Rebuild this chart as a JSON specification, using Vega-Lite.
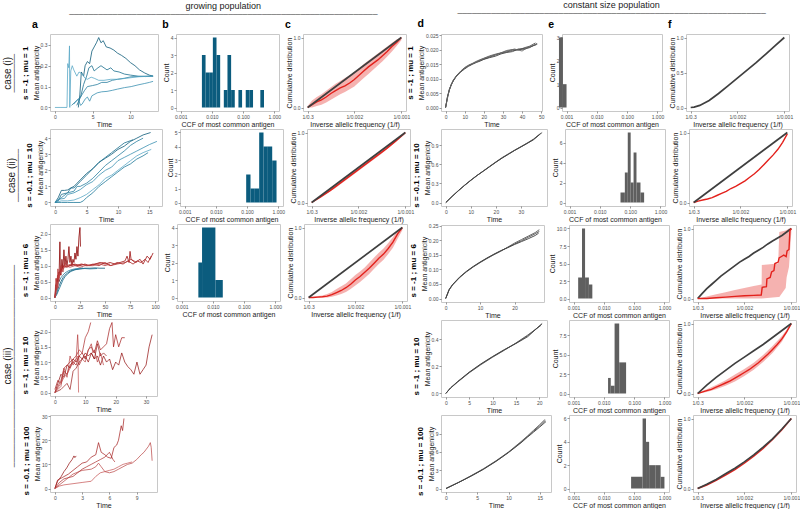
{
"$schema": "https://vega.github.io/schema/vega-lite/v6.json",
"padding": {"left": 2, "right": 2, "top": 1, "bottom": 1},
"background": "white",
"config": {
  "font": "Liberation Sans",
  "view": {"stroke": "#c8c8c8", "strokeWidth": 1},
  "axis": {"grid": false, "domain": false, "tickColor": "#555555", "tickSize": 2, "tickWidth": 0.6, "labelFontSize": 5, "labelColor": "#4d4d4d", "labelPadding": 1, "titleFontSize": 7, "titleFontWeight": "normal", "titleColor": "#1a1a1a", "titlePadding": 1, "labelFlush": false, "labelOverlap": false},
  "title": {"fontSize": 10.5, "fontWeight": "bold", "anchor": "start", "offset": 0, "color": "#000000"}
},
"datasets": {
"ts": [
{"p":"a1","r":"B1","t":3.1,"v":0},{"p":"a1","r":"B1","t":3.3,"v":0.06},{"p":"a1","r":"B1","t":3.5,"v":0.17},{"p":"a1","r":"B1","t":3.8,"v":0.15},{"p":"a1","r":"B1","t":4.0,"v":0.2},{"p":"a1","r":"B1","t":4.3,"v":0.22},{"p":"a1","r":"B1","t":4.6,"v":0.21},{"p":"a1","r":"B1","t":4.9,"v":0.27},{"p":"a1","r":"B1","t":5.2,"v":0.29},{"p":"a1","r":"B1","t":5.5,"v":0.31},{"p":"a1","r":"B1","t":5.8,"v":0.335},{"p":"a1","r":"B1","t":6.1,"v":0.31},{"p":"a1","r":"B1","t":6.4,"v":0.32},{"p":"a1","r":"B1","t":6.8,"v":0.29},{"p":"a1","r":"B1","t":7.3,"v":0.285},{"p":"a1","r":"B1","t":7.8,"v":0.275},{"p":"a1","r":"B1","t":8.3,"v":0.26},{"p":"a1","r":"B1","t":8.8,"v":0.25},{"p":"a1","r":"B1","t":9.4,"v":0.235},{"p":"a1","r":"B1","t":10.0,"v":0.215},{"p":"a1","r":"B1","t":10.6,"v":0.2},{"p":"a1","r":"B1","t":11.2,"v":0.18},{"p":"a1","r":"B1","t":11.9,"v":0.165},{"p":"a1","r":"B1","t":12.5,"v":0.155},{"p":"a1","r":"B1","t":13.0,"v":0.15},
{"p":"a1","r":"B2","t":2.9,"v":0.01},{"p":"a1","r":"B2","t":3.4,"v":0.05},{"p":"a1","r":"B2","t":3.8,"v":0.11},{"p":"a1","r":"B2","t":4.2,"v":0.15},{"p":"a1","r":"B2","t":4.5,"v":0.19},{"p":"a1","r":"B2","t":4.9,"v":0.2},{"p":"a1","r":"B2","t":5.2,"v":0.175},{"p":"a1","r":"B2","t":5.7,"v":0.19},{"p":"a1","r":"B2","t":6.1,"v":0.2},{"p":"a1","r":"B2","t":6.5,"v":0.19},{"p":"a1","r":"B2","t":6.9,"v":0.18},{"p":"a1","r":"B2","t":7.4,"v":0.19},{"p":"a1","r":"B2","t":7.8,"v":0.175},{"p":"a1","r":"B2","t":8.5,"v":0.17},{"p":"a1","r":"B2","t":9.2,"v":0.16},{"p":"a1","r":"B2","t":10.0,"v":0.155},{"p":"a1","r":"B2","t":11.0,"v":0.15},{"p":"a1","r":"B2","t":12.0,"v":0.148},{"p":"a1","r":"B2","t":13.0,"v":0.15},
{"p":"a1","r":"B3","t":2.2,"v":0.01},{"p":"a1","r":"B3","t":2.8,"v":0.03},{"p":"a1","r":"B3","t":3.4,"v":0.05},{"p":"a1","r":"B3","t":3.9,"v":0.08},{"p":"a1","r":"B3","t":4.3,"v":0.1},{"p":"a1","r":"B3","t":5.0,"v":0.105},{"p":"a1","r":"B3","t":5.6,"v":0.11},{"p":"a1","r":"B3","t":6.2,"v":0.12},{"p":"a1","r":"B3","t":6.9,"v":0.12},{"p":"a1","r":"B3","t":7.6,"v":0.13},{"p":"a1","r":"B3","t":8.3,"v":0.135},{"p":"a1","r":"B3","t":9.2,"v":0.14},{"p":"a1","r":"B3","t":10.1,"v":0.147},{"p":"a1","r":"B3","t":11.0,"v":0.148},{"p":"a1","r":"B3","t":11.9,"v":0.15},{"p":"a1","r":"B3","t":13.0,"v":0.15},
{"p":"a1","r":"B4","t":2.5,"v":0.016},{"p":"a1","r":"B4","t":2.8,"v":0.03},{"p":"a1","r":"B4","t":3.1,"v":0.04},{"p":"a1","r":"B4","t":3.4,"v":0.01},{"p":"a1","r":"B4","t":3.6,"v":0.016},{"p":"a1","r":"B4","t":4.0,"v":0.04},{"p":"a1","r":"B4","t":4.3,"v":0.05},{"p":"a1","r":"B4","t":4.6,"v":0.03},{"p":"a1","r":"B4","t":4.9,"v":0.056},{"p":"a1","r":"B4","t":5.6,"v":0.07},{"p":"a1","r":"B4","t":6.2,"v":0.075},{"p":"a1","r":"B4","t":6.9,"v":0.077},{"p":"a1","r":"B4","t":7.6,"v":0.082},{"p":"a1","r":"B4","t":8.3,"v":0.088},{"p":"a1","r":"B4","t":9.2,"v":0.095},{"p":"a1","r":"B4","t":10.1,"v":0.1},{"p":"a1","r":"B4","t":11.0,"v":0.108},{"p":"a1","r":"B4","t":11.9,"v":0.115},{"p":"a1","r":"B4","t":12.5,"v":0.12},{"p":"a1","r":"B4","t":13.0,"v":0.125},
{"p":"a1","r":"B5","t":0,"v":0},{"p":"a1","r":"B5","t":0.8,"v":0},{"p":"a1","r":"B5","t":1.6,"v":0},{"p":"a1","r":"B5","t":1.7,"v":0.21},{"p":"a1","r":"B5","t":1.84,"v":0.19},{"p":"a1","r":"B5","t":1.93,"v":0.295},{"p":"a1","r":"B5","t":1.97,"v":0},{"p":"a1","r":"B5","t":2.1,"v":0.175},{"p":"a1","r":"B5","t":2.3,"v":0.2},{"p":"a1","r":"B5","t":2.5,"v":0.18},{"p":"a1","r":"B5","t":2.9,"v":0.15},{"p":"a1","r":"B5","t":3.2,"v":0.17},{"p":"a1","r":"B5","t":3.6,"v":0.16},{"p":"a1","r":"B5","t":4.0,"v":0.14},{"p":"a1","r":"B5","t":4.3,"v":0.135},{"p":"a1","r":"B5","t":4.8,"v":0.145},{"p":"a1","r":"B5","t":5.2,"v":0.14},{"p":"a1","r":"B5","t":5.8,"v":0.13},{"p":"a1","r":"B5","t":6.5,"v":0.13},{"p":"a1","r":"B5","t":7.4,"v":0.135},{"p":"a1","r":"B5","t":8.3,"v":0.135},{"p":"a1","r":"B5","t":9.5,"v":0.14},{"p":"a1","r":"B5","t":11.0,"v":0.147},{"p":"a1","r":"B5","t":13.0,"v":0.15},

{"p":"a2","r":"B1","t":0,"v":0},{"p":"a2","r":"B1","t":0.5,"v":0.3},{"p":"a2","r":"B1","t":1,"v":0.75},{"p":"a2","r":"B1","t":1.5,"v":0.75},{"p":"a2","r":"B1","t":2,"v":0.78},{"p":"a2","r":"B1","t":2.5,"v":0.9},{"p":"a2","r":"B1","t":3,"v":1.0},{"p":"a2","r":"B1","t":3.5,"v":1.2},{"p":"a2","r":"B1","t":4,"v":1.4},{"p":"a2","r":"B1","t":5,"v":1.8},{"p":"a2","r":"B1","t":6,"v":2.1},{"p":"a2","r":"B1","t":7,"v":2.5},{"p":"a2","r":"B1","t":8,"v":2.75},{"p":"a2","r":"B1","t":9,"v":3.0},{"p":"a2","r":"B1","t":10,"v":3.3},{"p":"a2","r":"B1","t":11,"v":3.5},{"p":"a2","r":"B1","t":12,"v":3.8},{"p":"a2","r":"B1","t":13,"v":4.0},{"p":"a2","r":"B1","t":14,"v":4.2},{"p":"a2","r":"B1","t":15.2,"v":4.35},
{"p":"a2","r":"B2","t":0,"v":0},{"p":"a2","r":"B2","t":0.5,"v":0.1},{"p":"a2","r":"B2","t":1,"v":0.5},{"p":"a2","r":"B2","t":2,"v":0.6},{"p":"a2","r":"B2","t":2.5,"v":0.9},{"p":"a2","r":"B2","t":3,"v":0.9},{"p":"a2","r":"B2","t":4,"v":1.3},{"p":"a2","r":"B2","t":5,"v":1.7},{"p":"a2","r":"B2","t":6,"v":2.1},{"p":"a2","r":"B2","t":7,"v":2.5},{"p":"a2","r":"B2","t":8,"v":2.8},{"p":"a2","r":"B2","t":9,"v":3.1},{"p":"a2","r":"B2","t":10,"v":3.4},{"p":"a2","r":"B2","t":11,"v":3.7},{"p":"a2","r":"B2","t":12.4,"v":3.9},
{"p":"a2","r":"B3","t":0,"v":0},{"p":"a2","r":"B3","t":1,"v":0.3},{"p":"a2","r":"B3","t":2,"v":0.6},{"p":"a2","r":"B3","t":3,"v":0.7},{"p":"a2","r":"B3","t":3.5,"v":1.0},{"p":"a2","r":"B3","t":4,"v":1.0},{"p":"a2","r":"B3","t":5,"v":1.2},{"p":"a2","r":"B3","t":6,"v":1.5},{"p":"a2","r":"B3","t":7,"v":1.9},{"p":"a2","r":"B3","t":8,"v":2.3},{"p":"a2","r":"B3","t":9,"v":2.6},{"p":"a2","r":"B3","t":10,"v":2.9},{"p":"a2","r":"B3","t":11,"v":3.2},{"p":"a2","r":"B3","t":12,"v":3.55},{"p":"a2","r":"B3","t":13,"v":3.8},{"p":"a2","r":"B3","t":14,"v":4.0},
{"p":"a2","r":"B4","t":0,"v":0},{"p":"a2","r":"B4","t":0.5,"v":0.2},{"p":"a2","r":"B4","t":1.5,"v":0.25},{"p":"a2","r":"B4","t":2,"v":0.5},{"p":"a2","r":"B4","t":3,"v":0.6},{"p":"a2","r":"B4","t":4,"v":0.8},{"p":"a2","r":"B4","t":5,"v":1.1},{"p":"a2","r":"B4","t":6,"v":1.3},{"p":"a2","r":"B4","t":7,"v":1.7},{"p":"a2","r":"B4","t":8,"v":2.0},{"p":"a2","r":"B4","t":9,"v":2.2},{"p":"a2","r":"B4","t":10,"v":2.6},{"p":"a2","r":"B4","t":11,"v":2.8},{"p":"a2","r":"B4","t":12,"v":3.0},{"p":"a2","r":"B4","t":13,"v":3.2},{"p":"a2","r":"B4","t":14,"v":3.4},{"p":"a2","r":"B4","t":15,"v":3.6},{"p":"a2","r":"B4","t":16.2,"v":3.8},
{"p":"a2","r":"B5","t":0,"v":0},{"p":"a2","r":"B5","t":1,"v":0.1},{"p":"a2","r":"B5","t":2,"v":0.1},{"p":"a2","r":"B5","t":3,"v":0.15},{"p":"a2","r":"B5","t":4,"v":0.3},{"p":"a2","r":"B5","t":5,"v":0.5},{"p":"a2","r":"B5","t":6,"v":0.8},{"p":"a2","r":"B5","t":7,"v":1.1},{"p":"a2","r":"B5","t":8,"v":1.5},{"p":"a2","r":"B5","t":9,"v":1.7},{"p":"a2","r":"B5","t":10,"v":2.0},{"p":"a2","r":"B5","t":11,"v":2.3},{"p":"a2","r":"B5","t":12,"v":2.6},{"p":"a2","r":"B5","t":13,"v":2.9},{"p":"a2","r":"B5","t":14,"v":3.1},{"p":"a2","r":"B5","t":15.3,"v":3.3},
{"p":"a2","r":"B6","t":0,"v":0},{"p":"a2","r":"B6","t":1,"v":0},{"p":"a2","r":"B6","t":2,"v":0},{"p":"a2","r":"B6","t":3,"v":0},{"p":"a2","r":"B6","t":4,"v":0},{"p":"a2","r":"B6","t":4.5,"v":0.1},{"p":"a2","r":"B6","t":5,"v":0.3},{"p":"a2","r":"B6","t":6,"v":0.6},{"p":"a2","r":"B6","t":7,"v":1.0},{"p":"a2","r":"B6","t":8,"v":1.3},{"p":"a2","r":"B6","t":9,"v":1.6},{"p":"a2","r":"B6","t":10,"v":1.9},{"p":"a2","r":"B6","t":11,"v":2.2},{"p":"a2","r":"B6","t":12,"v":2.4},{"p":"a2","r":"B6","t":13,"v":2.7},{"p":"a2","r":"B6","t":14,"v":2.9},{"p":"a2","r":"B6","t":14.8,"v":3.1},

{"p":"a3","r":"B1","t":0,"v":0},{"p":"a3","r":"B1","t":2,"v":0.15},{"p":"a3","r":"B1","t":4,"v":0.35},{"p":"a3","r":"B1","t":6,"v":0.5},{"p":"a3","r":"B1","t":8,"v":0.62},{"p":"a3","r":"B1","t":10,"v":0.7},{"p":"a3","r":"B1","t":13,"v":0.78},{"p":"a3","r":"B1","t":16,"v":0.84},{"p":"a3","r":"B1","t":20,"v":0.88},{"p":"a3","r":"B1","t":25,"v":0.9},{"p":"a3","r":"B1","t":30,"v":0.92},{"p":"a3","r":"B1","t":35,"v":0.92},{"p":"a3","r":"B1","t":40,"v":0.93},{"p":"a3","r":"B1","t":45,"v":0.92},{"p":"a3","r":"B1","t":50,"v":0.92},
{"p":"a3","r":"B2","t":0,"v":0},{"p":"a3","r":"B2","t":2,"v":0.1},{"p":"a3","r":"B2","t":4,"v":0.25},{"p":"a3","r":"B2","t":6,"v":0.4},{"p":"a3","r":"B2","t":8,"v":0.55},{"p":"a3","r":"B2","t":10,"v":0.65},{"p":"a3","r":"B2","t":13,"v":0.75},{"p":"a3","r":"B2","t":16,"v":0.82},{"p":"a3","r":"B2","t":20,"v":0.87},{"p":"a3","r":"B2","t":25,"v":0.9},{"p":"a3","r":"B2","t":30,"v":0.91},{"p":"a3","r":"B2","t":35,"v":0.9},{"p":"a3","r":"B2","t":42,"v":0.91},
{"p":"a3","r":"B3","t":0,"v":0},{"p":"a3","r":"B3","t":2,"v":0.3},{"p":"a3","r":"B3","t":4,"v":0.5},{"p":"a3","r":"B3","t":6,"v":0.62},{"p":"a3","r":"B3","t":8,"v":0.7},{"p":"a3","r":"B3","t":10,"v":0.77},{"p":"a3","r":"B3","t":13,"v":0.83},{"p":"a3","r":"B3","t":16,"v":0.87},{"p":"a3","r":"B3","t":20,"v":0.9},{"p":"a3","r":"B3","t":25,"v":0.92},{"p":"a3","r":"B3","t":28,"v":0.93},
{"p":"a3","r":"R1","t":0,"v":0},{"p":"a3","r":"R1","t":1,"v":0.4},{"p":"a3","r":"R1","t":2,"v":0.25},{"p":"a3","r":"R1","t":3,"v":0.7},{"p":"a3","r":"R1","t":4,"v":0.5},{"p":"a3","r":"R1","t":5,"v":1.75},{"p":"a3","r":"R1","t":5.5,"v":0.8},{"p":"a3","r":"R1","t":6,"v":0.7},{"p":"a3","r":"R1","t":7,"v":1.2},{"p":"a3","r":"R1","t":8,"v":0.9},{"p":"a3","r":"R1","t":9,"v":1.5},{"p":"a3","r":"R1","t":10,"v":1.0},{"p":"a3","r":"R1","t":11,"v":1.3},{"p":"a3","r":"R1","t":12,"v":1.0},{"p":"a3","r":"R1","t":13,"v":1.2},{"p":"a3","r":"R1","t":14,"v":1.6},{"p":"a3","r":"R1","t":15,"v":1.1},{"p":"a3","r":"R1","t":16,"v":1.3},{"p":"a3","r":"R1","t":17,"v":1.0},{"p":"a3","r":"R1","t":18,"v":1.2},{"p":"a3","r":"R1","t":19,"v":1.1},{"p":"a3","r":"R1","t":20,"v":1.4},{"p":"a3","r":"R1","t":21,"v":1.2},{"p":"a3","r":"R1","t":22,"v":1.6},{"p":"a3","r":"R1","t":23,"v":1.3},{"p":"a3","r":"R1","t":24,"v":1.9},{"p":"a3","r":"R1","t":25,"v":2.2},{"p":"a3","r":"R1","t":25.5,"v":1.6},
{"p":"a3","r":"R2","t":0,"v":0},{"p":"a3","r":"R2","t":1,"v":0.3},{"p":"a3","r":"R2","t":2,"v":0.6},{"p":"a3","r":"R2","t":3,"v":0.5},{"p":"a3","r":"R2","t":4,"v":0.8},{"p":"a3","r":"R2","t":5,"v":0.7},{"p":"a3","r":"R2","t":7,"v":0.9},{"p":"a3","r":"R2","t":9,"v":1.0},{"p":"a3","r":"R2","t":12,"v":0.95},{"p":"a3","r":"R2","t":15,"v":1.0},{"p":"a3","r":"R2","t":20,"v":1.05},{"p":"a3","r":"R2","t":25,"v":1.0},{"p":"a3","r":"R2","t":30,"v":1.05},{"p":"a3","r":"R2","t":35,"v":1.0},{"p":"a3","r":"R2","t":40,"v":1.05},{"p":"a3","r":"R2","t":45,"v":1.1},{"p":"a3","r":"R2","t":50,"v":1.05},{"p":"a3","r":"R2","t":55,"v":1.1},{"p":"a3","r":"R2","t":60,"v":1.05},{"p":"a3","r":"R2","t":65,"v":1.1},{"p":"a3","r":"R2","t":70,"v":1.15},{"p":"a3","r":"R2","t":72,"v":1.3},{"p":"a3","r":"R2","t":74,"v":1.1},{"p":"a3","r":"R2","t":75,"v":1.45},{"p":"a3","r":"R2","t":76,"v":1.2},{"p":"a3","r":"R2","t":80,"v":1.1},{"p":"a3","r":"R2","t":85,"v":1.2},{"p":"a3","r":"R2","t":88,"v":1.05},{"p":"a3","r":"R2","t":92,"v":1.3},{"p":"a3","r":"R2","t":95,"v":1.2},{"p":"a3","r":"R2","t":98,"v":1.4},
{"p":"a3","r":"R3","t":0,"v":0},{"p":"a3","r":"R3","t":1,"v":0.2},{"p":"a3","r":"R3","t":2,"v":0.5},{"p":"a3","r":"R3","t":4,"v":0.75},{"p":"a3","r":"R3","t":6,"v":0.9},{"p":"a3","r":"R3","t":8,"v":1.0},{"p":"a3","r":"R3","t":10,"v":0.95},{"p":"a3","r":"R3","t":14,"v":1.0},{"p":"a3","r":"R3","t":18,"v":1.05},{"p":"a3","r":"R3","t":22,"v":1.0},{"p":"a3","r":"R3","t":27,"v":1.05},{"p":"a3","r":"R3","t":32,"v":1.0},{"p":"a3","r":"R3","t":38,"v":1.05},{"p":"a3","r":"R3","t":44,"v":1.0},{"p":"a3","r":"R3","t":50,"v":1.1},{"p":"a3","r":"R3","t":56,"v":1.0},{"p":"a3","r":"R3","t":62,"v":1.1},{"p":"a3","r":"R3","t":68,"v":1.05},{"p":"a3","r":"R3","t":73,"v":1.15},{"p":"a3","r":"R3","t":78,"v":1.05},{"p":"a3","r":"R3","t":82,"v":1.15},{"p":"a3","r":"R3","t":86,"v":1.1},{"p":"a3","r":"R3","t":90,"v":1.2},{"p":"a3","r":"R3","t":93,"v":1.1},{"p":"a3","r":"R3","t":96,"v":1.3},
{"p":"a3","r":"R4","t":0,"v":0},{"p":"a3","r":"R4","t":1,"v":0.6},{"p":"a3","r":"R4","t":2,"v":0.4},{"p":"a3","r":"R4","t":3,"v":0.9},{"p":"a3","r":"R4","t":4,"v":0.6},{"p":"a3","r":"R4","t":6,"v":1.0},{"p":"a3","r":"R4","t":8,"v":0.8},{"p":"a3","r":"R4","t":10,"v":1.1},{"p":"a3","r":"R4","t":12,"v":1.0},{"p":"a3","r":"R4","t":16,"v":1.05},{"p":"a3","r":"R4","t":20,"v":1.0},{"p":"a3","r":"R4","t":26,"v":1.05},{"p":"a3","r":"R4","t":32,"v":1.0},{"p":"a3","r":"R4","t":40,"v":1.05},{"p":"a3","r":"R4","t":48,"v":1.1},{"p":"a3","r":"R4","t":55,"v":1.0},{"p":"a3","r":"R4","t":62,"v":1.05},{"p":"a3","r":"R4","t":70,"v":1.1},{"p":"a3","r":"R4","t":76,"v":1.2},{"p":"a3","r":"R4","t":82,"v":1.1},
{"p":"a3","r":"R5","t":0,"v":0},{"p":"a3","r":"R5","t":1,"v":0.1},{"p":"a3","r":"R5","t":2,"v":0.5},{"p":"a3","r":"R5","t":3,"v":0.3},{"p":"a3","r":"R5","t":4,"v":0.7},{"p":"a3","r":"R5","t":6,"v":0.8},{"p":"a3","r":"R5","t":8,"v":0.9},{"p":"a3","r":"R5","t":10,"v":1.0},{"p":"a3","r":"R5","t":15,"v":0.95},{"p":"a3","r":"R5","t":20,"v":1.0},{"p":"a3","r":"R5","t":25,"v":0.95},{"p":"a3","r":"R5","t":30,"v":1.0},{"p":"a3","r":"R5","t":38,"v":1.0},{"p":"a3","r":"R5","t":45,"v":1.05},{"p":"a3","r":"R5","t":50,"v":1.0},{"p":"a3","r":"R5","t":55,"v":1.05},

{"p":"a4","r":"R1","t":0,"v":0},{"p":"a4","r":"R1","t":1,"v":0.3},{"p":"a4","r":"R1","t":2,"v":0.6},{"p":"a4","r":"R1","t":3,"v":0.5},{"p":"a4","r":"R1","t":4,"v":0.9},{"p":"a4","r":"R1","t":5,"v":0.8},{"p":"a4","r":"R1","t":6,"v":1.1},{"p":"a4","r":"R1","t":7,"v":1.0},{"p":"a4","r":"R1","t":8,"v":1.2},{"p":"a4","r":"R1","t":9,"v":1.1},{"p":"a4","r":"R1","t":10,"v":1.3},{"p":"a4","r":"R1","t":11,"v":1.2},{"p":"a4","r":"R1","t":12,"v":1.3},{"p":"a4","r":"R1","t":13,"v":1.1},{"p":"a4","r":"R1","t":14,"v":1.2},{"p":"a4","r":"R1","t":15,"v":0.9},{"p":"a4","r":"R1","t":16,"v":1.2},{"p":"a4","r":"R1","t":17,"v":1.0},{"p":"a4","r":"R1","t":18,"v":1.1},{"p":"a4","r":"R1","t":19,"v":0.75},{"p":"a4","r":"R1","t":20,"v":1.0},{"p":"a4","r":"R1","t":21,"v":0.9},{"p":"a4","r":"R1","t":22,"v":1.3},{"p":"a4","r":"R1","t":23,"v":1.0},{"p":"a4","r":"R1","t":24,"v":0.85},{"p":"a4","r":"R1","t":25,"v":0.75},{"p":"a4","r":"R1","t":26,"v":0.6},{"p":"a4","r":"R1","t":27,"v":1.0},{"p":"a4","r":"R1","t":28,"v":0.6},{"p":"a4","r":"R1","t":29,"v":0.75},{"p":"a4","r":"R1","t":30,"v":0.9},{"p":"a4","r":"R1","t":31,"v":1.5},{"p":"a4","r":"R1","t":32,"v":1.9},
{"p":"a4","r":"R2","t":0,"v":0.1},{"p":"a4","r":"R2","t":1,"v":0.4},{"p":"a4","r":"R2","t":2,"v":0.3},{"p":"a4","r":"R2","t":3,"v":0.7},{"p":"a4","r":"R2","t":4,"v":0.6},{"p":"a4","r":"R2","t":5,"v":0.9},{"p":"a4","r":"R2","t":6,"v":1.0},{"p":"a4","r":"R2","t":7,"v":0.9},{"p":"a4","r":"R2","t":8,"v":1.2},{"p":"a4","r":"R2","t":9,"v":1.3},{"p":"a4","r":"R2","t":10,"v":1.1},{"p":"a4","r":"R2","t":11,"v":1.4},{"p":"a4","r":"R2","t":12,"v":1.5},{"p":"a4","r":"R2","t":13,"v":1.3},{"p":"a4","r":"R2","t":14,"v":1.7},{"p":"a4","r":"R2","t":15,"v":1.4},{"p":"a4","r":"R2","t":16,"v":1.5},{"p":"a4","r":"R2","t":17,"v":1.6},{"p":"a4","r":"R2","t":18,"v":2.1},{"p":"a4","r":"R2","t":18.8,"v":2.3},{"p":"a4","r":"R2","t":19.3,"v":1.5},{"p":"a4","r":"R2","t":20,"v":1.9},{"p":"a4","r":"R2","t":21,"v":1.5},{"p":"a4","r":"R2","t":22,"v":1.8},{"p":"a4","r":"R2","t":23,"v":1.8},
{"p":"a4","r":"R3","t":0,"v":0},{"p":"a4","r":"R3","t":1,"v":0.2},{"p":"a4","r":"R3","t":2,"v":0.4},{"p":"a4","r":"R3","t":3,"v":0.8},{"p":"a4","r":"R3","t":4,"v":0.9},{"p":"a4","r":"R3","t":5,"v":1.0},{"p":"a4","r":"R3","t":6,"v":1.1},{"p":"a4","r":"R3","t":7,"v":1.2},{"p":"a4","r":"R3","t":8,"v":1.4},{"p":"a4","r":"R3","t":9,"v":1.3},{"p":"a4","r":"R3","t":10,"v":1.8},{"p":"a4","r":"R3","t":11,"v":2.0},{"p":"a4","r":"R3","t":11.8,"v":2.3},
{"p":"a4","r":"R4","t":0,"v":0},{"p":"a4","r":"R4","t":1,"v":0.1},{"p":"a4","r":"R4","t":2,"v":0.2},{"p":"a4","r":"R4","t":3,"v":0.8},{"p":"a4","r":"R4","t":4,"v":0.5},{"p":"a4","r":"R4","t":5,"v":1.2},{"p":"a4","r":"R4","t":6,"v":0.9},{"p":"a4","r":"R4","t":7,"v":1.1},{"p":"a4","r":"R4","t":7.5,"v":1.9},{"p":"a4","r":"R4","t":8,"v":0.9},{"p":"a4","r":"R4","t":9,"v":1.1},{"p":"a4","r":"R4","t":10,"v":1.0},{"p":"a4","r":"R4","t":11,"v":1.4},{"p":"a4","r":"R4","t":12,"v":1.6},{"p":"a4","r":"R4","t":12.5,"v":1.3},{"p":"a4","r":"R4","t":13,"v":1.4},{"p":"a4","r":"R4","t":14,"v":1.0},{"p":"a4","r":"R4","t":15,"v":1.3},{"p":"a4","r":"R4","t":16,"v":0.9},
{"p":"a4","r":"R5","t":0,"v":0},{"p":"a4","r":"R5","t":1,"v":0.15},{"p":"a4","r":"R5","t":2,"v":0.3},{"p":"a4","r":"R5","t":3,"v":0.5},{"p":"a4","r":"R5","t":4,"v":0.6},{"p":"a4","r":"R5","t":5,"v":0.8},{"p":"a4","r":"R5","t":6,"v":1.0},{"p":"a4","r":"R5","t":7,"v":1.1},{"p":"a4","r":"R5","t":7.6,"v":1.2},{"p":"a4","r":"R5","t":7.8,"v":0.0},
{"p":"a4","r":"R6","t":0,"v":0},{"p":"a4","r":"R6","t":1,"v":0.05},{"p":"a4","r":"R6","t":2,"v":0.1},{"p":"a4","r":"R6","t":3,"v":0.2},{"p":"a4","r":"R6","t":4,"v":0.3},{"p":"a4","r":"R6","t":5,"v":0.1},{"p":"a4","r":"R6","t":6,"v":0.7},{"p":"a4","r":"R6","t":7,"v":0.8},{"p":"a4","r":"R6","t":8,"v":1.0},{"p":"a4","r":"R6","t":9,"v":1.1},{"p":"a4","r":"R6","t":10,"v":1.2},{"p":"a4","r":"R6","t":11,"v":1.0},{"p":"a4","r":"R6","t":12,"v":1.3},{"p":"a4","r":"R6","t":13,"v":1.1},{"p":"a4","r":"R6","t":14,"v":1.6},{"p":"a4","r":"R6","t":15,"v":1.2},{"p":"a4","r":"R6","t":16,"v":1.3},{"p":"a4","r":"R6","t":17,"v":1.2},

{"p":"a5","r":"R1","t":0,"v":0},{"p":"a5","r":"R1","t":0.3,"v":3},{"p":"a5","r":"R1","t":0.7,"v":5},{"p":"a5","r":"R1","t":1.0,"v":7},{"p":"a5","r":"R1","t":1.3,"v":8.5},{"p":"a5","r":"R1","t":1.6,"v":10.5},{"p":"a5","r":"R1","t":1.9,"v":12},{"p":"a5","r":"R1","t":2.1,"v":13.5},{"p":"a5","r":"R1","t":2.2,"v":12.8},{"p":"a5","r":"R1","t":2.35,"v":13.5},
{"p":"a5","r":"R2","t":0,"v":0},{"p":"a5","r":"R2","t":0.3,"v":3.5},{"p":"a5","r":"R2","t":0.8,"v":4.5},{"p":"a5","r":"R2","t":1.5,"v":6},{"p":"a5","r":"R2","t":2.5,"v":9},{"p":"a5","r":"R2","t":3.0,"v":10.5},{"p":"a5","r":"R2","t":3.5,"v":11},{"p":"a5","r":"R2","t":4.0,"v":13},{"p":"a5","r":"R2","t":4.5,"v":14},{"p":"a5","r":"R2","t":4.8,"v":19},{"p":"a5","r":"R2","t":5.1,"v":15},{"p":"a5","r":"R2","t":5.5,"v":14},{"p":"a5","r":"R2","t":5.8,"v":13},{"p":"a5","r":"R2","t":6.2,"v":12.5},{"p":"a5","r":"R2","t":6.5,"v":17},{"p":"a5","r":"R2","t":6.8,"v":18},{"p":"a5","r":"R2","t":7.0,"v":20},{"p":"a5","r":"R2","t":7.3,"v":26},{"p":"a5","r":"R2","t":7.45,"v":24},{"p":"a5","r":"R2","t":7.6,"v":29},
{"p":"a5","r":"R3","t":0,"v":0},{"p":"a5","r":"R3","t":0.5,"v":2.5},{"p":"a5","r":"R3","t":1,"v":4},{"p":"a5","r":"R3","t":2,"v":5},{"p":"a5","r":"R3","t":3,"v":8},{"p":"a5","r":"R3","t":3.5,"v":9},{"p":"a5","r":"R3","t":4,"v":10},{"p":"a5","r":"R3","t":4.5,"v":11},{"p":"a5","r":"R3","t":5,"v":12},{"p":"a5","r":"R3","t":5.5,"v":13},{"p":"a5","r":"R3","t":6,"v":15},{"p":"a5","r":"R3","t":6.2,"v":13.5},{"p":"a5","r":"R3","t":6.4,"v":12},{"p":"a5","r":"R3","t":6.6,"v":11},
{"p":"a5","r":"R4","t":0,"v":0},{"p":"a5","r":"R4","t":1,"v":3},{"p":"a5","r":"R4","t":2,"v":6},{"p":"a5","r":"R4","t":3,"v":7.5},{"p":"a5","r":"R4","t":4,"v":8},{"p":"a5","r":"R4","t":4.5,"v":9},{"p":"a5","r":"R4","t":4.8,"v":10.5},{"p":"a5","r":"R4","t":5.1,"v":9},{"p":"a5","r":"R4","t":5.5,"v":7},{"p":"a5","r":"R4","t":6,"v":6.5},{"p":"a5","r":"R4","t":6.5,"v":7},{"p":"a5","r":"R4","t":7,"v":8},{"p":"a5","r":"R4","t":7.5,"v":9},{"p":"a5","r":"R4","t":8,"v":10},{"p":"a5","r":"R4","t":8.5,"v":10.5},{"p":"a5","r":"R4","t":9,"v":12},{"p":"a5","r":"R4","t":9.5,"v":14},{"p":"a5","r":"R4","t":9.8,"v":15},{"p":"a5","r":"R4","t":10,"v":16},{"p":"a5","r":"R4","t":10.3,"v":17.5},{"p":"a5","r":"R4","t":10.5,"v":19},{"p":"a5","r":"R4","t":10.6,"v":17},{"p":"a5","r":"R4","t":10.7,"v":11.5},
{"p":"a5","r":"R5","t":0,"v":0},{"p":"a5","r":"R5","t":0.5,"v":1},{"p":"a5","r":"R5","t":1,"v":1.5},{"p":"a5","r":"R5","t":2,"v":2},{"p":"a5","r":"R5","t":3,"v":2.5},{"p":"a5","r":"R5","t":4,"v":3},{"p":"a5","r":"R5","t":4.5,"v":5},{"p":"a5","r":"R5","t":5,"v":6.5},{"p":"a5","r":"R5","t":5.5,"v":7},{"p":"a5","r":"R5","t":6,"v":7.5},{"p":"a5","r":"R5","t":6.5,"v":8},{"p":"a5","r":"R5","t":7,"v":9},{"p":"a5","r":"R5","t":7.5,"v":10},{"p":"a5","r":"R5","t":8,"v":10.5},{"p":"a5","r":"R5","t":8.5,"v":11},

{"p":"d1","r":"G1","t":0,"v":0},{"p":"d1","r":"G1","t":1,"v":0.0038},{"p":"d1","r":"G1","t":2,"v":0.0062},{"p":"d1","r":"G1","t":3,"v":0.008},{"p":"d1","r":"G1","t":4,"v":0.0093},{"p":"d1","r":"G1","t":5,"v":0.0103},{"p":"d1","r":"G1","t":6,"v":0.0111},{"p":"d1","r":"G1","t":8,"v":0.0125},{"p":"d1","r":"G1","t":10,"v":0.0136},{"p":"d1","r":"G1","t":12,"v":0.0145},{"p":"d1","r":"G1","t":14,"v":0.0151},{"p":"d1","r":"G1","t":16,"v":0.0158},{"p":"d1","r":"G1","t":18,"v":0.0163},{"p":"d1","r":"G1","t":20,"v":0.0168},{"p":"d1","r":"G1","t":23,"v":0.0175},{"p":"d1","r":"G1","t":26,"v":0.0182},{"p":"d1","r":"G1","t":29,"v":0.0189},{"p":"d1","r":"G1","t":32,"v":0.0193},{"p":"d1","r":"G1","t":35,"v":0.0198},{"p":"d1","r":"G1","t":38,"v":0.0201},{"p":"d1","r":"G1","t":41,"v":0.0205},{"p":"d1","r":"G1","t":44,"v":0.021},{"p":"d1","r":"G1","t":47.5,"v":0.0218},
{"p":"d1","r":"G2","t":0,"v":0},{"p":"d1","r":"G2","t":1,"v":0.0036},{"p":"d1","r":"G2","t":2,"v":0.0061},{"p":"d1","r":"G2","t":3,"v":0.0078},{"p":"d1","r":"G2","t":4,"v":0.0094},{"p":"d1","r":"G2","t":5,"v":0.0105},{"p":"d1","r":"G2","t":6,"v":0.0113},{"p":"d1","r":"G2","t":8,"v":0.0127},{"p":"d1","r":"G2","t":10,"v":0.0139},{"p":"d1","r":"G2","t":12,"v":0.0147},{"p":"d1","r":"G2","t":14,"v":0.0153},{"p":"d1","r":"G2","t":16,"v":0.016},{"p":"d1","r":"G2","t":18,"v":0.0166},{"p":"d1","r":"G2","t":20,"v":0.0171},{"p":"d1","r":"G2","t":23,"v":0.0179},{"p":"d1","r":"G2","t":26,"v":0.0185},{"p":"d1","r":"G2","t":29,"v":0.019},{"p":"d1","r":"G2","t":32,"v":0.0198},{"p":"d1","r":"G2","t":35,"v":0.0201},{"p":"d1","r":"G2","t":38,"v":0.0199},{"p":"d1","r":"G2","t":41,"v":0.0207},{"p":"d1","r":"G2","t":44,"v":0.0213},{"p":"d1","r":"G2","t":47,"v":0.0224},
{"p":"d1","r":"G3","t":0,"v":0},{"p":"d1","r":"G3","t":1,"v":0.0037},{"p":"d1","r":"G3","t":2,"v":0.0063},{"p":"d1","r":"G3","t":3,"v":0.0081},{"p":"d1","r":"G3","t":4,"v":0.0092},{"p":"d1","r":"G3","t":5,"v":0.0102},{"p":"d1","r":"G3","t":6,"v":0.0112},{"p":"d1","r":"G3","t":8,"v":0.0124},{"p":"d1","r":"G3","t":10,"v":0.0134},{"p":"d1","r":"G3","t":12,"v":0.0143},{"p":"d1","r":"G3","t":14,"v":0.015},{"p":"d1","r":"G3","t":16,"v":0.0156},{"p":"d1","r":"G3","t":18,"v":0.0161},{"p":"d1","r":"G3","t":20,"v":0.0167},{"p":"d1","r":"G3","t":23,"v":0.0173},{"p":"d1","r":"G3","t":26,"v":0.0178},{"p":"d1","r":"G3","t":29,"v":0.0186},{"p":"d1","r":"G3","t":32,"v":0.0191},{"p":"d1","r":"G3","t":35,"v":0.0194},{"p":"d1","r":"G3","t":38,"v":0.0203},{"p":"d1","r":"G3","t":41,"v":0.0202},{"p":"d1","r":"G3","t":44,"v":0.0208},{"p":"d1","r":"G3","t":47.8,"v":0.0222},
{"p":"d1","r":"G4","t":0,"v":0},{"p":"d1","r":"G4","t":2,"v":0.0064},{"p":"d1","r":"G4","t":4,"v":0.0095},{"p":"d1","r":"G4","t":6,"v":0.011},{"p":"d1","r":"G4","t":8,"v":0.0126},{"p":"d1","r":"G4","t":10,"v":0.0137},{"p":"d1","r":"G4","t":13,"v":0.0149},{"p":"d1","r":"G4","t":16,"v":0.0157},{"p":"d1","r":"G4","t":20,"v":0.017},{"p":"d1","r":"G4","t":24,"v":0.0179},{"p":"d1","r":"G4","t":28,"v":0.0187},{"p":"d1","r":"G4","t":32,"v":0.0195},{"p":"d1","r":"G4","t":36,"v":0.0203},{"p":"d1","r":"G4","t":40,"v":0.0196},{"p":"d1","r":"G4","t":43,"v":0.0209},{"p":"d1","r":"G4","t":46,"v":0.0216},{"p":"d1","r":"G4","t":48,"v":0.022},

{"p":"d2","r":"G1","t":0,"v":0},{"p":"d2","r":"G1","t":2.5,"v":0.095},{"p":"d2","r":"G1","t":5,"v":0.185},{"p":"d2","r":"G1","t":7.5,"v":0.27},{"p":"d2","r":"G1","t":10,"v":0.35},{"p":"d2","r":"G1","t":12.5,"v":0.425},{"p":"d2","r":"G1","t":15,"v":0.495},{"p":"d2","r":"G1","t":17.5,"v":0.565},{"p":"d2","r":"G1","t":20,"v":0.635},{"p":"d2","r":"G1","t":22.5,"v":0.7},{"p":"d2","r":"G1","t":25,"v":0.76},{"p":"d2","r":"G1","t":27.5,"v":0.82},{"p":"d2","r":"G1","t":30,"v":0.875},{"p":"d2","r":"G1","t":32.5,"v":0.93},{"p":"d2","r":"G1","t":35,"v":0.99},{"p":"d2","r":"G1","t":38.5,"v":1.1},
{"p":"d2","r":"G2","t":0,"v":0},{"p":"d2","r":"G2","t":2.5,"v":0.093},{"p":"d2","r":"G2","t":5,"v":0.183},{"p":"d2","r":"G2","t":7.5,"v":0.268},{"p":"d2","r":"G2","t":10,"v":0.347},{"p":"d2","r":"G2","t":12.5,"v":0.423},{"p":"d2","r":"G2","t":15,"v":0.497},{"p":"d2","r":"G2","t":17.5,"v":0.568},{"p":"d2","r":"G2","t":20,"v":0.638},{"p":"d2","r":"G2","t":22.5,"v":0.706},{"p":"d2","r":"G2","t":25,"v":0.765},{"p":"d2","r":"G2","t":27.5,"v":0.823},{"p":"d2","r":"G2","t":30,"v":0.878},{"p":"d2","r":"G2","t":32.5,"v":0.935},{"p":"d2","r":"G2","t":35,"v":0.995},{"p":"d2","r":"G2","t":38,"v":1.09},
{"p":"d2","r":"G3","t":0,"v":0},{"p":"d2","r":"G3","t":2.5,"v":0.097},{"p":"d2","r":"G3","t":5,"v":0.187},{"p":"d2","r":"G3","t":7.5,"v":0.272},{"p":"d2","r":"G3","t":10,"v":0.352},{"p":"d2","r":"G3","t":12.5,"v":0.427},{"p":"d2","r":"G3","t":15,"v":0.492},{"p":"d2","r":"G3","t":17.5,"v":0.562},{"p":"d2","r":"G3","t":20,"v":0.632},{"p":"d2","r":"G3","t":22.5,"v":0.698},{"p":"d2","r":"G3","t":25,"v":0.757},{"p":"d2","r":"G3","t":27.5,"v":0.818},{"p":"d2","r":"G3","t":30,"v":0.872},{"p":"d2","r":"G3","t":32.5,"v":0.928},{"p":"d2","r":"G3","t":35,"v":0.985},{"p":"d2","r":"G3","t":37.5,"v":1.07},

{"p":"d3","r":"G1","t":0,"v":0},{"p":"d3","r":"G1","t":1,"v":0.03},{"p":"d3","r":"G1","t":2,"v":0.047},{"p":"d3","r":"G1","t":4,"v":0.072},{"p":"d3","r":"G1","t":6,"v":0.092},{"p":"d3","r":"G1","t":8,"v":0.109},{"p":"d3","r":"G1","t":10,"v":0.124},{"p":"d3","r":"G1","t":12,"v":0.138},{"p":"d3","r":"G1","t":14,"v":0.151},{"p":"d3","r":"G1","t":16,"v":0.163},{"p":"d3","r":"G1","t":18,"v":0.175},{"p":"d3","r":"G1","t":20,"v":0.187},{"p":"d3","r":"G1","t":22,"v":0.198},{"p":"d3","r":"G1","t":24,"v":0.21},{"p":"d3","r":"G1","t":26,"v":0.222},{"p":"d3","r":"G1","t":27.2,"v":0.23},
{"p":"d3","r":"G2","t":0,"v":0},{"p":"d3","r":"G2","t":1,"v":0.029},{"p":"d3","r":"G2","t":2,"v":0.046},{"p":"d3","r":"G2","t":4,"v":0.071},{"p":"d3","r":"G2","t":6,"v":0.091},{"p":"d3","r":"G2","t":8,"v":0.108},{"p":"d3","r":"G2","t":10,"v":0.123},{"p":"d3","r":"G2","t":12,"v":0.137},{"p":"d3","r":"G2","t":14,"v":0.15},{"p":"d3","r":"G2","t":16,"v":0.162},{"p":"d3","r":"G2","t":18,"v":0.176},{"p":"d3","r":"G2","t":20,"v":0.19},{"p":"d3","r":"G2","t":22,"v":0.202},{"p":"d3","r":"G2","t":24,"v":0.214},{"p":"d3","r":"G2","t":26,"v":0.226},{"p":"d3","r":"G2","t":27.2,"v":0.236},
{"p":"d3","r":"G3","t":0,"v":0},{"p":"d3","r":"G3","t":1,"v":0.031},{"p":"d3","r":"G3","t":2,"v":0.048},{"p":"d3","r":"G3","t":4,"v":0.073},{"p":"d3","r":"G3","t":6,"v":0.093},{"p":"d3","r":"G3","t":8,"v":0.11},{"p":"d3","r":"G3","t":10,"v":0.125},{"p":"d3","r":"G3","t":12,"v":0.139},{"p":"d3","r":"G3","t":14,"v":0.152},{"p":"d3","r":"G3","t":16,"v":0.164},{"p":"d3","r":"G3","t":18,"v":0.174},{"p":"d3","r":"G3","t":20,"v":0.185},{"p":"d3","r":"G3","t":22,"v":0.195},{"p":"d3","r":"G3","t":24,"v":0.205},{"p":"d3","r":"G3","t":26,"v":0.216},{"p":"d3","r":"G3","t":27,"v":0.224},

{"p":"d4","r":"G1","t":0,"v":0},{"p":"d4","r":"G1","t":1,"v":0.04},{"p":"d4","r":"G1","t":2.5,"v":0.085},{"p":"d4","r":"G1","t":5,"v":0.155},{"p":"d4","r":"G1","t":7.5,"v":0.215},{"p":"d4","r":"G1","t":10,"v":0.27},{"p":"d4","r":"G1","t":12.5,"v":0.32},{"p":"d4","r":"G1","t":15,"v":0.37},{"p":"d4","r":"G1","t":17.5,"v":0.425},{"p":"d4","r":"G1","t":20.5,"v":0.51},
{"p":"d4","r":"G2","t":0,"v":0},{"p":"d4","r":"G2","t":1,"v":0.039},{"p":"d4","r":"G2","t":2.5,"v":0.083},{"p":"d4","r":"G2","t":5,"v":0.152},{"p":"d4","r":"G2","t":7.5,"v":0.212},{"p":"d4","r":"G2","t":10,"v":0.267},{"p":"d4","r":"G2","t":12.5,"v":0.318},{"p":"d4","r":"G2","t":15,"v":0.372},{"p":"d4","r":"G2","t":17.5,"v":0.43},{"p":"d4","r":"G2","t":20.3,"v":0.5},
{"p":"d4","r":"G3","t":0,"v":0},{"p":"d4","r":"G3","t":1,"v":0.041},{"p":"d4","r":"G3","t":2.5,"v":0.087},{"p":"d4","r":"G3","t":5,"v":0.157},{"p":"d4","r":"G3","t":7.5,"v":0.218},{"p":"d4","r":"G3","t":10,"v":0.272},{"p":"d4","r":"G3","t":12.5,"v":0.323},{"p":"d4","r":"G3","t":15,"v":0.368},{"p":"d4","r":"G3","t":17.5,"v":0.418},{"p":"d4","r":"G3","t":20.6,"v":0.515},

{"p":"d5","r":"G1","t":0,"v":0},{"p":"d5","r":"G1","t":1,"v":0.5},{"p":"d5","r":"G1","t":2,"v":1.0},{"p":"d5","r":"G1","t":3,"v":1.5},{"p":"d5","r":"G1","t":4,"v":2.05},{"p":"d5","r":"G1","t":5,"v":2.6},{"p":"d5","r":"G1","t":6,"v":3.2},{"p":"d5","r":"G1","t":7,"v":3.85},{"p":"d5","r":"G1","t":8,"v":4.5},{"p":"d5","r":"G1","t":9,"v":5.2},{"p":"d5","r":"G1","t":10,"v":5.95},{"p":"d5","r":"G1","t":11,"v":6.75},{"p":"d5","r":"G1","t":12,"v":7.6},{"p":"d5","r":"G1","t":13,"v":8.5},{"p":"d5","r":"G1","t":14,"v":9.4},{"p":"d5","r":"G1","t":15,"v":10.3},{"p":"d5","r":"G1","t":15.9,"v":11.2},
{"p":"d5","r":"G2","t":0,"v":0},{"p":"d5","r":"G2","t":2,"v":1.0},{"p":"d5","r":"G2","t":4,"v":2.1},{"p":"d5","r":"G2","t":6,"v":3.25},{"p":"d5","r":"G2","t":8,"v":4.55},{"p":"d5","r":"G2","t":10,"v":6.0},{"p":"d5","r":"G2","t":12,"v":7.7},{"p":"d5","r":"G2","t":13,"v":8.6},{"p":"d5","r":"G2","t":14,"v":9.55},{"p":"d5","r":"G2","t":15,"v":10.5},{"p":"d5","r":"G2","t":15.8,"v":11.3},
{"p":"d5","r":"G3","t":0,"v":0},{"p":"d5","r":"G3","t":2,"v":0.98},{"p":"d5","r":"G3","t":4,"v":2.03},{"p":"d5","r":"G3","t":6,"v":3.15},{"p":"d5","r":"G3","t":8,"v":4.45},{"p":"d5","r":"G3","t":10,"v":5.9},{"p":"d5","r":"G3","t":12,"v":7.5},{"p":"d5","r":"G3","t":13,"v":8.4},{"p":"d5","r":"G3","t":14,"v":9.25},{"p":"d5","r":"G3","t":15,"v":10.1},{"p":"d5","r":"G3","t":16,"v":11.0}
],
"hist": [
{"p":"b1","lo":0.004786,"hi":0.006266,"n":3},{"p":"b1","lo":0.006266,"hi":0.008204,"n":2},{"p":"b1","lo":0.008204,"hi":0.01074,"n":2},{"p":"b1","lo":0.01074,"hi":0.01406,"n":4},{"p":"b1","lo":0.01406,"hi":0.018408,"n":3},{"p":"b1","lo":0.024099,"hi":0.03155,"n":1},{"p":"b1","lo":0.03155,"hi":0.041305,"n":3},{"p":"b1","lo":0.041305,"hi":0.054075,"n":1},{"p":"b1","lo":0.070795,"hi":0.092683,"n":1},{"p":"b1","lo":0.121339,"hi":0.158855,"n":1},{"p":"b1","lo":0.158855,"hi":0.20797,"n":1},{"p":"b1","lo":0.356451,"hi":0.466659,"n":1},
{"p":"b2","lo":0.09333,"hi":0.12853,"n":2},{"p":"b2","lo":0.12853,"hi":0.17701,"n":1},{"p":"b2","lo":0.17701,"hi":0.24378,"n":1},{"p":"b2","lo":0.24378,"hi":0.33574,"n":5},{"p":"b2","lo":0.33574,"hi":0.46238,"n":4},{"p":"b2","lo":0.46238,"hi":0.6368,"n":4},{"p":"b2","lo":0.6368,"hi":0.877,"n":3},
{"p":"b3","lo":0.00342,"hi":0.00449,"n":2},{"p":"b3","lo":0.00449,"hi":0.01202,"n":4},{"p":"b3","lo":0.01202,"hi":0.02075,"n":1},
{"p":"e1","lo":0.000562,"hi":0.00076,"n":3},{"p":"e1","lo":0.00076,"hi":0.001,"n":1},
{"p":"e2","lo":0.048,"hi":0.0668,"n":1},{"p":"e2","lo":0.0668,"hi":0.0834,"n":3},{"p":"e2","lo":0.0834,"hi":0.104,"n":7},{"p":"e2","lo":0.104,"hi":0.1297,"n":2},{"p":"e2","lo":0.1297,"hi":0.1618,"n":5},{"p":"e2","lo":0.1618,"hi":0.2193,"n":2},{"p":"e2","lo":0.2193,"hi":0.2891,"n":1},
{"p":"e3","lo":0.00142,"hi":0.0019,"n":3},{"p":"e3","lo":0.0019,"hi":0.0024,"n":10},{"p":"e3","lo":0.0024,"hi":0.00321,"n":3},{"p":"e3","lo":0.00321,"hi":0.00417,"n":2},
{"p":"e4","lo":0.01377,"hi":0.0169,"n":2},{"p":"e4","lo":0.0169,"hi":0.0226,"n":1},{"p":"e4","lo":0.0226,"hi":0.0321,"n":9},{"p":"e4","lo":0.0321,"hi":0.0542,"n":4},
{"p":"e5","lo":0.0793,"hi":0.19,"n":1},{"p":"e5","lo":0.19,"hi":0.2466,"n":6},{"p":"e5","lo":0.2466,"hi":0.3119,"n":4},{"p":"e5","lo":0.3119,"hi":0.5,"n":2},{"p":"e5","lo":0.5,"hi":0.7464,"n":2},{"p":"e5","lo":0.7464,"hi":1.0,"n":1}
],
"cum": [
{"p":"c1","s":"g","x":3.333,"y":0},{"p":"c1","s":"g","x":1000,"y":1},
{"p":"c1","s":"r","x":3.333,"y":0},{"p":"c1","s":"r","x":50,"y":0.04},{"p":"c1","s":"r","x":100,"y":0.08},{"p":"c1","s":"r","x":150,"y":0.11},{"p":"c1","s":"r","x":200,"y":0.15},{"p":"c1","s":"r","x":250,"y":0.2},{"p":"c1","s":"r","x":300,"y":0.24},{"p":"c1","s":"r","x":350,"y":0.28},{"p":"c1","s":"r","x":400,"y":0.31},{"p":"c1","s":"r","x":450,"y":0.35},{"p":"c1","s":"r","x":500,"y":0.4},{"p":"c1","s":"r","x":550,"y":0.46},{"p":"c1","s":"r","x":600,"y":0.52},{"p":"c1","s":"r","x":650,"y":0.58},{"p":"c1","s":"r","x":700,"y":0.63},{"p":"c1","s":"r","x":750,"y":0.68},{"p":"c1","s":"r","x":800,"y":0.74},{"p":"c1","s":"r","x":850,"y":0.8},{"p":"c1","s":"r","x":900,"y":0.87},{"p":"c1","s":"r","x":950,"y":0.93},{"p":"c1","s":"r","x":1000,"y":1.0},
{"p":"c2","s":"g","x":3.333,"y":0},{"p":"c2","s":"g","x":1000,"y":1},
{"p":"c2","s":"r","x":3.333,"y":0},{"p":"c2","s":"r","x":100,"y":0.08},{"p":"c2","s":"r","x":200,"y":0.17},{"p":"c2","s":"r","x":300,"y":0.27},{"p":"c2","s":"r","x":400,"y":0.37},{"p":"c2","s":"r","x":500,"y":0.47},{"p":"c2","s":"r","x":600,"y":0.57},{"p":"c2","s":"r","x":700,"y":0.67},{"p":"c2","s":"r","x":800,"y":0.77},{"p":"c2","s":"r","x":900,"y":0.88},{"p":"c2","s":"r","x":1000,"y":1.0},
{"p":"c3","s":"g","x":3.333,"y":0},{"p":"c3","s":"g","x":1000,"y":1},
{"p":"c3","s":"r","x":3.333,"y":0},{"p":"c3","s":"r","x":50,"y":0},{"p":"c3","s":"r","x":100,"y":0.005},{"p":"c3","s":"r","x":150,"y":0.01},{"p":"c3","s":"r","x":200,"y":0.02},{"p":"c3","s":"r","x":250,"y":0.04},{"p":"c3","s":"r","x":300,"y":0.07},{"p":"c3","s":"r","x":350,"y":0.1},{"p":"c3","s":"r","x":400,"y":0.14},{"p":"c3","s":"r","x":450,"y":0.19},{"p":"c3","s":"r","x":500,"y":0.25},{"p":"c3","s":"r","x":550,"y":0.3},{"p":"c3","s":"r","x":600,"y":0.36},{"p":"c3","s":"r","x":650,"y":0.42},{"p":"c3","s":"r","x":700,"y":0.49},{"p":"c3","s":"r","x":750,"y":0.56},{"p":"c3","s":"r","x":800,"y":0.62},{"p":"c3","s":"r","x":850,"y":0.7},{"p":"c3","s":"r","x":900,"y":0.79},{"p":"c3","s":"r","x":950,"y":0.91},{"p":"c3","s":"r","x":1000,"y":1.0},
{"p":"f1","s":"g","x":3.333,"y":0},{"p":"f1","s":"g","x":40,"y":0.005},{"p":"f1","s":"g","x":100,"y":0.03},{"p":"f1","s":"g","x":200,"y":0.1},{"p":"f1","s":"g","x":300,"y":0.2},{"p":"f1","s":"g","x":400,"y":0.31},{"p":"f1","s":"g","x":500,"y":0.42},{"p":"f1","s":"g","x":600,"y":0.53},{"p":"f1","s":"g","x":700,"y":0.64},{"p":"f1","s":"g","x":800,"y":0.76},{"p":"f1","s":"g","x":900,"y":0.88},{"p":"f1","s":"g","x":1000,"y":1.0},
{"p":"f2","s":"g","x":3.333,"y":0},{"p":"f2","s":"g","x":1000,"y":1},
{"p":"f2","s":"r","x":3.333,"y":0},{"p":"f2","s":"r","x":50,"y":0.02},{"p":"f2","s":"r","x":100,"y":0.035},{"p":"f2","s":"r","x":150,"y":0.05},{"p":"f2","s":"r","x":200,"y":0.07},{"p":"f2","s":"r","x":250,"y":0.1},{"p":"f2","s":"r","x":300,"y":0.13},{"p":"f2","s":"r","x":350,"y":0.16},{"p":"f2","s":"r","x":400,"y":0.2},{"p":"f2","s":"r","x":450,"y":0.23},{"p":"f2","s":"r","x":500,"y":0.27},{"p":"f2","s":"r","x":550,"y":0.31},{"p":"f2","s":"r","x":600,"y":0.36},{"p":"f2","s":"r","x":650,"y":0.41},{"p":"f2","s":"r","x":700,"y":0.47},{"p":"f2","s":"r","x":750,"y":0.54},{"p":"f2","s":"r","x":800,"y":0.61},{"p":"f2","s":"r","x":850,"y":0.68},{"p":"f2","s":"r","x":900,"y":0.76},{"p":"f2","s":"r","x":950,"y":0.86},{"p":"f2","s":"r","x":1000,"y":0.98},
{"p":"f3","s":"g","x":3.333,"y":0},{"p":"f3","s":"g","x":50,"y":0.07},{"p":"f3","s":"g","x":100,"y":0.14},{"p":"f3","s":"g","x":150,"y":0.2},{"p":"f3","s":"g","x":200,"y":0.26},{"p":"f3","s":"g","x":250,"y":0.32},{"p":"f3","s":"g","x":300,"y":0.37},{"p":"f3","s":"g","x":350,"y":0.42},{"p":"f3","s":"g","x":400,"y":0.47},{"p":"f3","s":"g","x":450,"y":0.52},{"p":"f3","s":"g","x":500,"y":0.56},{"p":"f3","s":"g","x":550,"y":0.6},{"p":"f3","s":"g","x":600,"y":0.65},{"p":"f3","s":"g","x":650,"y":0.69},{"p":"f3","s":"g","x":700,"y":0.73},{"p":"f3","s":"g","x":750,"y":0.78},{"p":"f3","s":"g","x":800,"y":0.82},{"p":"f3","s":"g","x":850,"y":0.86},{"p":"f3","s":"g","x":900,"y":0.9},{"p":"f3","s":"g","x":950,"y":0.95},{"p":"f3","s":"g","x":1000,"y":1.0},
{"p":"f3","s":"r","x":3.333,"y":0},{"p":"f3","s":"r","x":100,"y":0},{"p":"f3","s":"r","x":200,"y":0.01},{"p":"f3","s":"r","x":300,"y":0.02},{"p":"f3","s":"r","x":400,"y":0.03},{"p":"f3","s":"r","x":500,"y":0.04},{"p":"f3","s":"r","x":600,"y":0.045},{"p":"f3","s":"r","x":680,"y":0.05},{"p":"f3","s":"r","x":690,"y":0.16},{"p":"f3","s":"r","x":735,"y":0.17},{"p":"f3","s":"r","x":740,"y":0.28},{"p":"f3","s":"r","x":775,"y":0.3},{"p":"f3","s":"r","x":790,"y":0.38},{"p":"f3","s":"r","x":815,"y":0.4},{"p":"f3","s":"r","x":825,"y":0.5},{"p":"f3","s":"r","x":860,"y":0.52},{"p":"f3","s":"r","x":870,"y":0.58},{"p":"f3","s":"r","x":895,"y":0.6},{"p":"f3","s":"r","x":920,"y":0.62},{"p":"f3","s":"r","x":945,"y":0.6},{"p":"f3","s":"r","x":955,"y":0.68},{"p":"f3","s":"r","x":975,"y":0.7},{"p":"f3","s":"r","x":985,"y":0.97},{"p":"f3","s":"r","x":1000,"y":1.0},
{"p":"f4","s":"g","x":3.333,"y":0},{"p":"f4","s":"g","x":100,"y":0.12},{"p":"f4","s":"g","x":200,"y":0.23},{"p":"f4","s":"g","x":300,"y":0.33},{"p":"f4","s":"g","x":400,"y":0.43},{"p":"f4","s":"g","x":500,"y":0.52},{"p":"f4","s":"g","x":600,"y":0.61},{"p":"f4","s":"g","x":700,"y":0.7},{"p":"f4","s":"g","x":800,"y":0.8},{"p":"f4","s":"g","x":900,"y":0.9},{"p":"f4","s":"g","x":1000,"y":1.0},
{"p":"f4","s":"r","x":3.333,"y":0},{"p":"f4","s":"r","x":50,"y":0.02},{"p":"f4","s":"r","x":100,"y":0.04},{"p":"f4","s":"r","x":150,"y":0.06},{"p":"f4","s":"r","x":200,"y":0.09},{"p":"f4","s":"r","x":250,"y":0.12},{"p":"f4","s":"r","x":300,"y":0.15},{"p":"f4","s":"r","x":350,"y":0.18},{"p":"f4","s":"r","x":400,"y":0.22},{"p":"f4","s":"r","x":450,"y":0.26},{"p":"f4","s":"r","x":500,"y":0.3},{"p":"f4","s":"r","x":550,"y":0.34},{"p":"f4","s":"r","x":600,"y":0.39},{"p":"f4","s":"r","x":650,"y":0.44},{"p":"f4","s":"r","x":700,"y":0.5},{"p":"f4","s":"r","x":750,"y":0.56},{"p":"f4","s":"r","x":800,"y":0.63},{"p":"f4","s":"r","x":850,"y":0.7},{"p":"f4","s":"r","x":900,"y":0.78},{"p":"f4","s":"r","x":950,"y":0.88},{"p":"f4","s":"r","x":1000,"y":1.0},
{"p":"f5","s":"g","x":3.333,"y":0},{"p":"f5","s":"g","x":100,"y":0.06},{"p":"f5","s":"g","x":200,"y":0.13},{"p":"f5","s":"g","x":300,"y":0.21},{"p":"f5","s":"g","x":400,"y":0.29},{"p":"f5","s":"g","x":500,"y":0.38},{"p":"f5","s":"g","x":600,"y":0.48},{"p":"f5","s":"g","x":700,"y":0.59},{"p":"f5","s":"g","x":800,"y":0.71},{"p":"f5","s":"g","x":900,"y":0.85},{"p":"f5","s":"g","x":1000,"y":1.0},
{"p":"f5","s":"r","x":3.333,"y":0},{"p":"f5","s":"r","x":100,"y":0.05},{"p":"f5","s":"r","x":200,"y":0.115},{"p":"f5","s":"r","x":300,"y":0.19},{"p":"f5","s":"r","x":400,"y":0.27},{"p":"f5","s":"r","x":500,"y":0.36},{"p":"f5","s":"r","x":600,"y":0.46},{"p":"f5","s":"r","x":700,"y":0.57},{"p":"f5","s":"r","x":800,"y":0.7},{"p":"f5","s":"r","x":900,"y":0.84},{"p":"f5","s":"r","x":1000,"y":1.0}
],
"band": [
{"p":"c1","x":3.333,"lo":0,"hi":0.02},{"p":"c1","x":50,"lo":0,"hi":0.1},{"p":"c1","x":100,"lo":0.02,"hi":0.15},{"p":"c1","x":150,"lo":0.04,"hi":0.19},{"p":"c1","x":200,"lo":0.07,"hi":0.24},{"p":"c1","x":250,"lo":0.11,"hi":0.29},{"p":"c1","x":300,"lo":0.15,"hi":0.34},{"p":"c1","x":350,"lo":0.19,"hi":0.38},{"p":"c1","x":400,"lo":0.22,"hi":0.42},{"p":"c1","x":450,"lo":0.26,"hi":0.46},{"p":"c1","x":500,"lo":0.3,"hi":0.51},{"p":"c1","x":550,"lo":0.36,"hi":0.56},{"p":"c1","x":600,"lo":0.42,"hi":0.62},{"p":"c1","x":650,"lo":0.48,"hi":0.67},{"p":"c1","x":700,"lo":0.54,"hi":0.72},{"p":"c1","x":750,"lo":0.6,"hi":0.77},{"p":"c1","x":800,"lo":0.66,"hi":0.82},{"p":"c1","x":850,"lo":0.73,"hi":0.87},{"p":"c1","x":900,"lo":0.8,"hi":0.92},{"p":"c1","x":950,"lo":0.88,"hi":0.97},{"p":"c1","x":1000,"lo":0.96,"hi":1.0},
{"p":"c2","x":3.333,"lo":0,"hi":0.01},{"p":"c2","x":250,"lo":0.2,"hi":0.24},{"p":"c2","x":500,"lo":0.45,"hi":0.49},{"p":"c2","x":750,"lo":0.7,"hi":0.74},{"p":"c2","x":1000,"lo":0.98,"hi":1.0},
{"p":"c3","x":3.333,"lo":0,"hi":0.01},{"p":"c3","x":50,"lo":0,"hi":0.01},{"p":"c3","x":100,"lo":0,"hi":0.02},{"p":"c3","x":150,"lo":0,"hi":0.03},{"p":"c3","x":200,"lo":0,"hi":0.05},{"p":"c3","x":250,"lo":0.01,"hi":0.08},{"p":"c3","x":300,"lo":0.03,"hi":0.12},{"p":"c3","x":350,"lo":0.05,"hi":0.16},{"p":"c3","x":400,"lo":0.08,"hi":0.2},{"p":"c3","x":450,"lo":0.12,"hi":0.26},{"p":"c3","x":500,"lo":0.17,"hi":0.32},{"p":"c3","x":550,"lo":0.22,"hi":0.37},{"p":"c3","x":600,"lo":0.28,"hi":0.43},{"p":"c3","x":650,"lo":0.34,"hi":0.5},{"p":"c3","x":700,"lo":0.41,"hi":0.57},{"p":"c3","x":750,"lo":0.48,"hi":0.64},{"p":"c3","x":800,"lo":0.54,"hi":0.7},{"p":"c3","x":850,"lo":0.62,"hi":0.78},{"p":"c3","x":900,"lo":0.71,"hi":0.86},{"p":"c3","x":950,"lo":0.84,"hi":0.96},{"p":"c3","x":1000,"lo":0.96,"hi":1.0},
{"p":"f3","x":3.333,"lo":0,"hi":0},{"p":"f3","x":100,"lo":0,"hi":0.03},{"p":"f3","x":200,"lo":0,"hi":0.06},{"p":"f3","x":300,"lo":0,"hi":0.09},{"p":"f3","x":400,"lo":0,"hi":0.12},{"p":"f3","x":500,"lo":0,"hi":0.15},{"p":"f3","x":600,"lo":0,"hi":0.18},{"p":"f3","x":684,"lo":0,"hi":0.2},{"p":"f3","x":686,"lo":0,"hi":0.48},{"p":"f3","x":860,"lo":0.02,"hi":0.5},{"p":"f3","x":872,"lo":0.02,"hi":0.95},{"p":"f3","x":940,"lo":0.15,"hi":0.97},{"p":"f3","x":950,"lo":0.3,"hi":0.98},{"p":"f3","x":975,"lo":0.45,"hi":1.0},{"p":"f3","x":1000,"lo":0.95,"hi":1.0},
{"p":"f4","x":3.333,"lo":0,"hi":0.01},{"p":"f4","x":100,"lo":0.02,"hi":0.06},{"p":"f4","x":200,"lo":0.06,"hi":0.12},{"p":"f4","x":300,"lo":0.11,"hi":0.19},{"p":"f4","x":400,"lo":0.17,"hi":0.27},{"p":"f4","x":500,"lo":0.25,"hi":0.35},{"p":"f4","x":600,"lo":0.34,"hi":0.44},{"p":"f4","x":700,"lo":0.45,"hi":0.55},{"p":"f4","x":800,"lo":0.58,"hi":0.68},{"p":"f4","x":900,"lo":0.74,"hi":0.82},{"p":"f4","x":1000,"lo":0.98,"hi":1.0}
]
},
"spacing": -9,
"hconcat": [
{
 "title": {"text": "growing population", "subtitle": "────────────────────────────────────────────────────────────────", "anchor": "middle", "fontSize": 9, "fontWeight": "normal", "color": "#222222", "subtitleFont": "DejaVu Sans", "subtitleFontSize": 8, "subtitleColor": "#666666", "subtitlePadding": 0, "offset": 0, "dx": 15},
 "spacing": 0,
 "vconcat": [
  {
   "title": {"text": "case (i)", "subtitle": "────────", "orient": "left", "anchor": "middle", "fontSize": 10, "fontWeight": "normal", "color": "#222222", "subtitleFont": "DejaVu Sans", "subtitleFontSize": 8, "subtitleColor": "#555555", "subtitlePadding": -2, "offset": 3},
   "spacing": 2,
   "hconcat": [
    {"title": {"text": "s = -1 ; mu = 1", "orient": "left", "anchor": "middle", "fontSize": 8, "fontWeight": "bold", "offset": 2},
     "hconcat": [
      {"width": 108, "height": 77, "title": {"text": "a"}, "data": {"name": "ts"}, "transform": [{"filter": "datum.p=='a1'"}], "mark": {"type": "line", "strokeWidth": 0.8},
       "encoding": {"x": {"field": "t", "type": "quantitative", "title": "Time", "scale": {"domain": [-0.65, 13.65], "nice": false, "zero": false}, "axis": {"values": [0, 5, 10]}},
        "y": {"field": "v", "type": "quantitative", "title": "Mean antigenicity", "scale": {"domain": [-0.017, 0.352], "nice": false, "zero": false}, "axis": {"values": [0, 0.1, 0.2, 0.3], "format": ".1f"}},
        "color": {"field": "r", "type": "nominal", "legend": null, "scale": {"domain": ["B1","B2","B3","B4","B5","B6","R1","R2","R3","R4","R5","R6","G1","G2","G3","G4"], "range": ["#0d5a79","#1b6e8e","#2a7fa0","#3b90b1","#5aa8c6","#1f7899","#8b0000","#9e1212","#a82020","#b53a3a","#c04848","#931010","#4d4d4d","#5a5a5a","#404040","#666666"]}}}}
     ]},
    {"width": 103, "height": 77, "title": {"text": "b"}, "data": {"name": "hist"}, "transform": [{"filter": "datum.p=='b1'"}], "mark": {"type": "rect", "color": "#0b5c7e"},
     "encoding": {"x": {"field": "lo", "type": "quantitative", "title": "CCF of most common antigen", "scale": {"type": "log", "domain": [0.000708, 1.4125], "nice": false}, "axis": {"values": [0.001, 0.01, 0.1, 1], "format": ".3f"}}, "x2": {"field": "hi"},
      "y": {"field": "n", "type": "quantitative", "title": "Count", "scale": {"domain": [-0.2, 4.2], "nice": false, "zero": false}, "axis": {"values": [0, 1, 2, 3, 4]}}, "y2": {"datum": 0}}},
    {"width": 103, "height": 77, "title": {"text": "c"},
     "layer": [
      {"data": {"name": "band"}, "transform": [{"filter": "datum.p=='c1'"}], "mark": {"type": "area", "color": "#e3211c", "opacity": 0.35},
       "encoding": {"x": {"field": "x", "type": "quantitative", "title": "Inverse allelic frequency (1/f)", "scale": {"domain": [-46.5, 1049.8], "nice": false, "zero": false}, "axis": {"values": [3.333, 500, 1000], "labelExpr": "datum.value < 10 ? '1/0.3' : (datum.value < 600 ? '1/0.002' : '1/0.001')"}},
        "y": {"field": "lo", "type": "quantitative", "title": "Cumulative distribution", "scale": {"domain": [-0.05, 1.05], "nice": false, "zero": false}, "axis": {"values": [0, 0.5, 1], "format": ".1f"}}, "y2": {"field": "hi"}}},
      {"data": {"name": "cum"}, "transform": [{"filter": "datum.p=='c1' && datum.s=='r'"}], "mark": {"type": "line", "color": "#e3211c", "strokeWidth": 1.4},
       "encoding": {"x": {"field": "x", "type": "quantitative"}, "y": {"field": "y", "type": "quantitative"}}},
      {"data": {"name": "cum"}, "transform": [{"filter": "datum.p=='c1' && datum.s=='g'"}], "mark": {"type": "line", "color": "#3f3f3f", "strokeWidth": 1.7},
       "encoding": {"x": {"field": "x", "type": "quantitative"}, "y": {"field": "y", "type": "quantitative"}}}
     ]}
   ]
  },
  {
   "title": {"text": "case (ii)", "subtitle": "───────────", "orient": "left", "anchor": "middle", "fontSize": 10, "fontWeight": "normal", "color": "#222222", "subtitleFont": "DejaVu Sans", "subtitleFontSize": 8, "subtitleColor": "#555555", "subtitlePadding": -2, "offset": 3},
   "spacing": 2,
   "hconcat": [
    {"title": {"text": "s = -0.1 ; mu = 10", "orient": "left", "anchor": "middle", "fontSize": 8, "fontWeight": "bold", "offset": 2},
     "hconcat": [
      {"width": 112, "height": 77, "data": {"name": "ts"}, "transform": [{"filter": "datum.p=='a2'"}], "mark": {"type": "line", "strokeWidth": 0.8},
       "encoding": {"x": {"field": "t", "type": "quantitative", "title": "Time", "scale": {"domain": [-0.81, 17.01], "nice": false, "zero": false}, "axis": {"values": [0, 5, 10, 15]}},
        "y": {"field": "v", "type": "quantitative", "title": "Mean antigenicity", "scale": {"domain": [-0.22, 4.57], "nice": false, "zero": false}, "axis": {"values": [0, 1, 2, 3, 4]}},
        "color": {"field": "r", "type": "nominal", "legend": null, "scale": {"domain": ["B1","B2","B3","B4","B5","B6","R1","R2","R3","R4","R5","R6","G1","G2","G3","G4"], "range": ["#0d5a79","#1b6e8e","#2a7fa0","#3b90b1","#5aa8c6","#1f7899","#8b0000","#9e1212","#a82020","#b53a3a","#c04848","#931010","#4d4d4d","#5a5a5a","#404040","#666666"]}}}}
     ]},
    {"width": 103, "height": 77, "data": {"name": "hist"}, "transform": [{"filter": "datum.p=='b2'"}], "mark": {"type": "rect", "color": "#0b5c7e"},
     "encoding": {"x": {"field": "lo", "type": "quantitative", "title": "CCF of most common antigen", "scale": {"type": "log", "domain": [0.000708, 1.4125], "nice": false}, "axis": {"values": [0.001, 0.01, 0.1, 1], "format": ".3f"}}, "x2": {"field": "hi"},
      "y": {"field": "n", "type": "quantitative", "title": "Count", "scale": {"domain": [-0.25, 5.25], "nice": false, "zero": false}, "axis": {"values": [0, 1, 2, 3, 4, 5]}}, "y2": {"datum": 0}}},
    {"width": 103, "height": 77,
     "layer": [
      {"data": {"name": "band"}, "transform": [{"filter": "datum.p=='c2'"}], "mark": {"type": "area", "color": "#e3211c", "opacity": 0.35},
       "encoding": {"x": {"field": "x", "type": "quantitative", "title": "Inverse allelic frequency (1/f)", "scale": {"domain": [-46.5, 1049.8], "nice": false, "zero": false}, "axis": {"values": [3.333, 500, 1000], "labelExpr": "datum.value < 10 ? '1/0.3' : (datum.value < 600 ? '1/0.002' : '1/0.001')"}},
        "y": {"field": "lo", "type": "quantitative", "title": "Cumulative distribution", "scale": {"domain": [-0.05, 1.05], "nice": false, "zero": false}, "axis": {"values": [0, 0.5, 1], "format": ".1f"}}, "y2": {"field": "hi"}}},
      {"data": {"name": "cum"}, "transform": [{"filter": "datum.p=='c2' && datum.s=='r'"}], "mark": {"type": "line", "color": "#e3211c", "strokeWidth": 1.4},
       "encoding": {"x": {"field": "x", "type": "quantitative"}, "y": {"field": "y", "type": "quantitative"}}},
      {"data": {"name": "cum"}, "transform": [{"filter": "datum.p=='c2' && datum.s=='g'"}], "mark": {"type": "line", "color": "#3f3f3f", "strokeWidth": 1.7},
       "encoding": {"x": {"field": "x", "type": "quantitative"}, "y": {"field": "y", "type": "quantitative"}}}
     ]}
   ]
  },
  {
   "title": {"text": "case (iii)", "subtitle": "──────────────────────────────────────────", "orient": "left", "anchor": "middle", "fontSize": 10, "fontWeight": "normal", "color": "#222222", "subtitleFont": "DejaVu Sans", "subtitleFontSize": 8, "subtitleColor": "#555555", "subtitlePadding": -2, "offset": 3},
   "spacing": 0,
   "vconcat": [
    {"spacing": 2, "hconcat": [
     {"title": {"text": "s = -1 ; mu = 6", "orient": "left", "anchor": "middle", "fontSize": 8, "fontWeight": "bold", "offset": 2},
      "hconcat": [
       {"width": 108, "height": 77, "data": {"name": "ts"}, "transform": [{"filter": "datum.p=='a3'"}], "mark": {"type": "line", "strokeWidth": 0.8},
        "encoding": {"x": {"field": "t", "type": "quantitative", "title": "Time", "scale": {"domain": [-4.9, 102.9], "nice": false, "zero": false}, "axis": {"values": [0, 25, 50, 75, 100]}},
         "y": {"field": "v", "type": "quantitative", "title": "Mean antigenicity", "scale": {"domain": [-0.11, 2.31], "nice": false, "zero": false}, "axis": {"values": [0, 0.5, 1, 1.5, 2], "format": ".1f"}},
         "color": {"field": "r", "type": "nominal", "legend": null, "scale": {"domain": ["B1","B2","B3","B4","B5","B6","R1","R2","R3","R4","R5","R6","G1","G2","G3","G4"], "range": ["#0d5a79","#1b6e8e","#2a7fa0","#3b90b1","#5aa8c6","#1f7899","#8b0000","#9e1212","#a82020","#b53a3a","#c04848","#931010","#4d4d4d","#5a5a5a","#404040","#666666"]}}}}
      ]},
     {"width": 103, "height": 77, "data": {"name": "hist"}, "transform": [{"filter": "datum.p=='b3'"}], "mark": {"type": "rect", "color": "#0b5c7e"},
      "encoding": {"x": {"field": "lo", "type": "quantitative", "title": "CCF of most common antigen", "scale": {"type": "log", "domain": [0.000708, 1.4125], "nice": false}, "axis": {"values": [0.001, 0.01, 0.1, 1], "format": ".3f"}}, "x2": {"field": "hi"},
       "y": {"field": "n", "type": "quantitative", "title": "Count", "scale": {"domain": [-0.2, 4.2], "nice": false, "zero": false}, "axis": {"values": [0, 1, 2, 3, 4]}}, "y2": {"datum": 0}}},
     {"width": 103, "height": 77,
      "layer": [
       {"data": {"name": "band"}, "transform": [{"filter": "datum.p=='c3'"}], "mark": {"type": "area", "color": "#e3211c", "opacity": 0.35},
        "encoding": {"x": {"field": "x", "type": "quantitative", "title": "Inverse allelic frequency (1/f)", "scale": {"domain": [-46.5, 1049.8], "nice": false, "zero": false}, "axis": {"values": [3.333, 500, 1000], "labelExpr": "datum.value < 10 ? '1/0.3' : (datum.value < 600 ? '1/0.002' : '1/0.001')"}},
         "y": {"field": "lo", "type": "quantitative", "title": "Cumulative distribution", "scale": {"domain": [-0.05, 1.05], "nice": false, "zero": false}, "axis": {"values": [0, 0.5, 1], "format": ".1f"}}, "y2": {"field": "hi"}}},
       {"data": {"name": "cum"}, "transform": [{"filter": "datum.p=='c3' && datum.s=='r'"}], "mark": {"type": "line", "color": "#e3211c", "strokeWidth": 1.4},
        "encoding": {"x": {"field": "x", "type": "quantitative"}, "y": {"field": "y", "type": "quantitative"}}},
       {"data": {"name": "cum"}, "transform": [{"filter": "datum.p=='c3' && datum.s=='g'"}], "mark": {"type": "line", "color": "#3f3f3f", "strokeWidth": 1.7},
        "encoding": {"x": {"field": "x", "type": "quantitative"}, "y": {"field": "y", "type": "quantitative"}}}
      ]}
    ]},
    {"title": {"text": "s = -1 ; mu = 10", "orient": "left", "anchor": "middle", "fontSize": 8, "fontWeight": "bold", "offset": 2},
     "hconcat": [
      {"width": 107, "height": 77, "data": {"name": "ts"}, "transform": [{"filter": "datum.p=='a4'"}], "mark": {"type": "line", "strokeWidth": 0.8, "opacity": 0.85},
       "encoding": {"x": {"field": "t", "type": "quantitative", "title": "Time", "scale": {"domain": [-1.6, 33.6], "nice": false, "zero": false}, "axis": {"values": [0, 10, 20, 30]}},
        "y": {"field": "v", "type": "quantitative", "title": "Mean antigenicity", "scale": {"domain": [-0.115, 2.415], "nice": false, "zero": false}, "axis": {"values": [0, 0.5, 1, 1.5, 2], "format": ".1f"}},
        "color": {"field": "r", "type": "nominal", "legend": null, "scale": {"domain": ["B1","B2","B3","B4","B5","B6","R1","R2","R3","R4","R5","R6","G1","G2","G3","G4"], "range": ["#0d5a79","#1b6e8e","#2a7fa0","#3b90b1","#5aa8c6","#1f7899","#8b0000","#9e1212","#a82020","#b53a3a","#c04848","#931010","#4d4d4d","#5a5a5a","#404040","#666666"]}}}}
     ]},
    {"title": {"text": "s = -0.1 ; mu = 100", "orient": "left", "anchor": "middle", "fontSize": 8, "fontWeight": "bold", "offset": 2},
     "hconcat": [
      {"width": 107, "height": 77, "data": {"name": "ts"}, "transform": [{"filter": "datum.p=='a5'"}], "mark": {"type": "line", "strokeWidth": 0.8, "opacity": 0.85},
       "encoding": {"x": {"field": "t", "type": "quantitative", "title": "Time", "scale": {"domain": [-0.535, 11.235], "nice": false, "zero": false}, "axis": {"values": [0, 3, 6, 9]}},
        "y": {"field": "v", "type": "quantitative", "title": "Mean antigenicity", "scale": {"domain": [-1.45, 30.45], "nice": false, "zero": false}, "axis": {"values": [0, 10, 20, 30]}},
        "color": {"field": "r", "type": "nominal", "legend": null, "scale": {"domain": ["B1","B2","B3","B4","B5","B6","R1","R2","R3","R4","R5","R6","G1","G2","G3","G4"], "range": ["#0d5a79","#1b6e8e","#2a7fa0","#3b90b1","#5aa8c6","#1f7899","#8b0000","#9e1212","#a82020","#b53a3a","#c04848","#931010","#4d4d4d","#5a5a5a","#404040","#666666"]}}}}
     ]}
   ]
  }
 ]
},
{
 "title": {"text": "constant size population", "subtitle": "────────────────────────────────────────────────────────────────", "anchor": "middle", "fontSize": 9, "fontWeight": "normal", "color": "#222222", "subtitleFont": "DejaVu Sans", "subtitleFontSize": 8, "subtitleColor": "#666666", "subtitlePadding": 0, "offset": 0, "dx": 8},
 "spacing": 0,
 "vconcat": [
  {"spacing": 2, "hconcat": [
   {"title": {"text": "s = -1 ; mu = 1", "orient": "left", "anchor": "middle", "fontSize": 8, "fontWeight": "bold", "offset": 2},
    "hconcat": [
     {"width": 101, "height": 77, "title": {"text": "d"}, "data": {"name": "ts"}, "transform": [{"filter": "datum.p=='d1'"}], "mark": {"type": "line", "strokeWidth": 0.9},
      "encoding": {"x": {"field": "t", "type": "quantitative", "title": "Time", "scale": {"domain": [-2.4, 50.4], "nice": false, "zero": false}, "axis": {"values": [0, 10, 20, 30, 40, 50]}},
       "y": {"field": "v", "type": "quantitative", "title": "Mean antigenicity", "scale": {"domain": [-0.0012, 0.0255], "nice": false, "zero": false}, "axis": {"values": [0, 0.005, 0.01, 0.015, 0.02, 0.025], "format": ".3f"}},
       "color": {"field": "r", "type": "nominal", "legend": null, "scale": {"domain": ["B1","B2","B3","B4","B5","B6","R1","R2","R3","R4","R5","R6","G1","G2","G3","G4"], "range": ["#0d5a79","#1b6e8e","#2a7fa0","#3b90b1","#5aa8c6","#1f7899","#8b0000","#9e1212","#a82020","#b53a3a","#c04848","#931010","#4d4d4d","#5a5a5a","#404040","#666666"]}}}}
    ]},
   {"width": 100, "height": 77, "title": {"text": "e"}, "data": {"name": "hist"}, "transform": [{"filter": "datum.p=='e1'"}], "mark": {"type": "rect", "color": "#5f5f5f"},
    "encoding": {"x": {"field": "lo", "type": "quantitative", "title": "CCF of most common antigen", "scale": {"type": "log", "domain": [0.000708, 1.4125], "nice": false}, "axis": {"values": [0.001, 0.01, 0.1, 1], "format": ".3f"}}, "x2": {"field": "hi"},
     "y": {"field": "n", "type": "quantitative", "title": "Count", "scale": {"domain": [-0.15, 3.15], "nice": false, "zero": false}, "axis": {"values": [0, 1, 2, 3]}}, "y2": {"datum": 0}}},
   {"width": 103, "height": 77, "title": {"text": "f"},
    "layer": [
     {"data": {"name": "cum"}, "transform": [{"filter": "datum.p=='f1' && datum.s=='g'"}], "mark": {"type": "line", "color": "#3f3f3f", "strokeWidth": 1.7},
      "encoding": {"x": {"field": "x", "type": "quantitative", "title": "Inverse allelic frequency (1/f)", "scale": {"domain": [-46.5, 1049.8], "nice": false, "zero": false}, "axis": {"values": [3.333, 500, 1000], "labelExpr": "datum.value < 10 ? '1/0.3' : (datum.value < 600 ? '1/0.002' : '1/0.001')"}},
       "y": {"field": "y", "type": "quantitative", "title": "Cumulative distribution", "scale": {"domain": [-0.05, 1.05], "nice": false, "zero": false}, "axis": {"values": [0, 0.5, 1], "format": ".1f"}}}}
    ]}
  ]},
  {"spacing": 2, "hconcat": [
   {"title": {"text": "s = -0.1 ; mu = 10", "orient": "left", "anchor": "middle", "fontSize": 8, "fontWeight": "bold", "offset": 2},
    "hconcat": [
     {"width": 106, "height": 77, "data": {"name": "ts"}, "transform": [{"filter": "datum.p=='d2'"}], "mark": {"type": "line", "strokeWidth": 0.9},
      "encoding": {"x": {"field": "t", "type": "quantitative", "title": "Time", "scale": {"domain": [-1.93, 40.43], "nice": false, "zero": false}, "axis": {"values": [0, 10, 20, 30]}},
       "y": {"field": "v", "type": "quantitative", "title": "Mean antigenicity", "scale": {"domain": [-0.055, 1.155], "nice": false, "zero": false}, "axis": {"values": [0, 0.3, 0.6, 0.9], "format": ".1f"}},
       "color": {"field": "r", "type": "nominal", "legend": null, "scale": {"domain": ["B1","B2","B3","B4","B5","B6","R1","R2","R3","R4","R5","R6","G1","G2","G3","G4"], "range": ["#0d5a79","#1b6e8e","#2a7fa0","#3b90b1","#5aa8c6","#1f7899","#8b0000","#9e1212","#a82020","#b53a3a","#c04848","#931010","#4d4d4d","#5a5a5a","#404040","#666666"]}}}}
    ]},
   {"width": 100, "height": 77, "data": {"name": "hist"}, "transform": [{"filter": "datum.p=='e2'"}], "mark": {"type": "rect", "color": "#5f5f5f"},
    "encoding": {"x": {"field": "lo", "type": "quantitative", "title": "CCF of most common antigen", "scale": {"type": "log", "domain": [0.000708, 1.4125], "nice": false}, "axis": {"values": [0.001, 0.01, 0.1, 1], "format": ".3f"}}, "x2": {"field": "hi"},
     "y": {"field": "n", "type": "quantitative", "title": "Count", "scale": {"domain": [-0.35, 7.35], "nice": false, "zero": false}, "axis": {"values": [0, 2, 4, 6]}}, "y2": {"datum": 0}}},
   {"width": 103, "height": 77,
    "layer": [
     {"data": {"name": "cum"}, "transform": [{"filter": "datum.p=='f2' && datum.s=='r'"}], "mark": {"type": "line", "color": "#e3211c", "strokeWidth": 1.4},
      "encoding": {"x": {"field": "x", "type": "quantitative", "title": "Inverse allelic frequency (1/f)", "scale": {"domain": [-46.5, 1049.8], "nice": false, "zero": false}, "axis": {"values": [3.333, 500, 1000], "labelExpr": "datum.value < 10 ? '1/0.3' : (datum.value < 600 ? '1/0.002' : '1/0.001')"}},
       "y": {"field": "y", "type": "quantitative", "title": "Cumulative distribution", "scale": {"domain": [-0.05, 1.05], "nice": false, "zero": false}, "axis": {"values": [0, 0.5, 1], "format": ".1f"}}}},
     {"data": {"name": "cum"}, "transform": [{"filter": "datum.p=='f2' && datum.s=='g'"}], "mark": {"type": "line", "color": "#3f3f3f", "strokeWidth": 1.7},
      "encoding": {"x": {"field": "x", "type": "quantitative"}, "y": {"field": "y", "type": "quantitative"}}}
    ]}
  ]},
  {"spacing": 2, "hconcat": [
   {"title": {"text": "s = -1 ; mu = 6", "orient": "left", "anchor": "middle", "fontSize": 8, "fontWeight": "bold", "offset": 2},
    "hconcat": [
     {"width": 103, "height": 77, "data": {"name": "ts"}, "transform": [{"filter": "datum.p=='d3'"}], "mark": {"type": "line", "strokeWidth": 0.9},
      "encoding": {"x": {"field": "t", "type": "quantitative", "title": "Time", "scale": {"domain": [-1.36, 28.56], "nice": false, "zero": false}, "axis": {"values": [0, 10, 20]}},
       "y": {"field": "v", "type": "quantitative", "title": "Mean antigenicity", "scale": {"domain": [-0.012, 0.252], "nice": false, "zero": false}, "axis": {"values": [0, 0.05, 0.1, 0.15, 0.2, 0.25], "format": ".2f"}},
       "color": {"field": "r", "type": "nominal", "legend": null, "scale": {"domain": ["B1","B2","B3","B4","B5","B6","R1","R2","R3","R4","R5","R6","G1","G2","G3","G4"], "range": ["#0d5a79","#1b6e8e","#2a7fa0","#3b90b1","#5aa8c6","#1f7899","#8b0000","#9e1212","#a82020","#b53a3a","#c04848","#931010","#4d4d4d","#5a5a5a","#404040","#666666"]}}}}
    ]},
   {"width": 100, "height": 77, "data": {"name": "hist"}, "transform": [{"filter": "datum.p=='e3'"}], "mark": {"type": "rect", "color": "#5f5f5f"},
    "encoding": {"x": {"field": "lo", "type": "quantitative", "title": "CCF of most common antigen", "scale": {"type": "log", "domain": [0.000708, 1.4125], "nice": false}, "axis": {"values": [0.001, 0.01, 0.1, 1], "format": ".3f"}}, "x2": {"field": "hi"},
     "y": {"field": "n", "type": "quantitative", "title": "Count", "scale": {"domain": [-0.5, 10.5], "nice": false, "zero": false}, "axis": {"values": [0, 2.5, 5, 7.5, 10], "format": ".1f"}}, "y2": {"datum": 0}}},
   {"width": 103, "height": 77,
    "layer": [
     {"data": {"name": "band"}, "transform": [{"filter": "datum.p=='f3'"}], "mark": {"type": "area", "color": "#e3211c", "opacity": 0.35},
      "encoding": {"x": {"field": "x", "type": "quantitative", "title": "Inverse allelic frequency (1/f)", "scale": {"domain": [-46.5, 1049.8], "nice": false, "zero": false}, "axis": {"values": [3.333, 500, 1000], "labelExpr": "datum.value < 10 ? '1/0.3' : (datum.value < 600 ? '1/0.002' : '1/0.001')"}},
       "y": {"field": "lo", "type": "quantitative", "title": "Cumulative distribution", "scale": {"domain": [-0.05, 1.05], "nice": false, "zero": false}, "axis": {"values": [0, 0.5, 1], "format": ".1f"}}, "y2": {"field": "hi"}}},
     {"data": {"name": "cum"}, "transform": [{"filter": "datum.p=='f3' && datum.s=='g'"}], "mark": {"type": "line", "color": "#3f3f3f", "strokeWidth": 1.7},
      "encoding": {"x": {"field": "x", "type": "quantitative"}, "y": {"field": "y", "type": "quantitative"}}},
     {"data": {"name": "cum"}, "transform": [{"filter": "datum.p=='f3' && datum.s=='r'"}], "mark": {"type": "line", "color": "#e3211c", "strokeWidth": 1.4},
      "encoding": {"x": {"field": "x", "type": "quantitative"}, "y": {"field": "y", "type": "quantitative"}}}
    ]}
  ]},
  {"spacing": 2, "hconcat": [
   {"title": {"text": "s = -1 ; mu = 10", "orient": "left", "anchor": "middle", "fontSize": 8, "fontWeight": "bold", "offset": 2},
    "hconcat": [
     {"width": 106, "height": 77, "data": {"name": "ts"}, "transform": [{"filter": "datum.p=='d4'"}], "mark": {"type": "line", "strokeWidth": 0.9},
      "encoding": {"x": {"field": "t", "type": "quantitative", "title": "Time", "scale": {"domain": [-1.03, 21.63], "nice": false, "zero": false}, "axis": {"values": [0, 5, 10, 15, 20]}},
       "y": {"field": "v", "type": "quantitative", "title": "Mean antigenicity", "scale": {"domain": [-0.026, 0.541], "nice": false, "zero": false}, "axis": {"values": [0, 0.2, 0.4], "format": ".1f"}},
       "color": {"field": "r", "type": "nominal", "legend": null, "scale": {"domain": ["B1","B2","B3","B4","B5","B6","R1","R2","R3","R4","R5","R6","G1","G2","G3","G4"], "range": ["#0d5a79","#1b6e8e","#2a7fa0","#3b90b1","#5aa8c6","#1f7899","#8b0000","#9e1212","#a82020","#b53a3a","#c04848","#931010","#4d4d4d","#5a5a5a","#404040","#666666"]}}}}
    ]},
   {"width": 100, "height": 77, "data": {"name": "hist"}, "transform": [{"filter": "datum.p=='e4'"}], "mark": {"type": "rect", "color": "#5f5f5f"},
    "encoding": {"x": {"field": "lo", "type": "quantitative", "title": "CCF of most common antigen", "scale": {"type": "log", "domain": [0.000708, 1.4125], "nice": false}, "axis": {"values": [0.001, 0.01, 0.1, 1], "format": ".3f"}}, "x2": {"field": "hi"},
     "y": {"field": "n", "type": "quantitative", "title": "Count", "scale": {"domain": [-0.45, 9.45], "nice": false, "zero": false}, "axis": {"values": [0, 2.5, 5, 7.5], "format": ".1f"}}, "y2": {"datum": 0}}},
   {"width": 103, "height": 77,
    "layer": [
     {"data": {"name": "band"}, "transform": [{"filter": "datum.p=='f4'"}], "mark": {"type": "area", "color": "#e3211c", "opacity": 0.35},
      "encoding": {"x": {"field": "x", "type": "quantitative", "title": "Inverse allelic frequency (1/f)", "scale": {"domain": [-46.5, 1049.8], "nice": false, "zero": false}, "axis": {"values": [3.333, 500, 1000], "labelExpr": "datum.value < 10 ? '1/0.3' : (datum.value < 600 ? '1/0.002' : '1/0.001')"}},
       "y": {"field": "lo", "type": "quantitative", "title": "Cumulative distribution", "scale": {"domain": [-0.05, 1.05], "nice": false, "zero": false}, "axis": {"values": [0, 0.5, 1], "format": ".1f"}}, "y2": {"field": "hi"}}},
     {"data": {"name": "cum"}, "transform": [{"filter": "datum.p=='f4' && datum.s=='r'"}], "mark": {"type": "line", "color": "#e3211c", "strokeWidth": 1.4},
      "encoding": {"x": {"field": "x", "type": "quantitative"}, "y": {"field": "y", "type": "quantitative"}}},
     {"data": {"name": "cum"}, "transform": [{"filter": "datum.p=='f4' && datum.s=='g'"}], "mark": {"type": "line", "color": "#3f3f3f", "strokeWidth": 1.7},
      "encoding": {"x": {"field": "x", "type": "quantitative"}, "y": {"field": "y", "type": "quantitative"}}}
    ]}
  ]},
  {"spacing": 2, "hconcat": [
   {"title": {"text": "s = -0.1 ; mu = 100", "orient": "left", "anchor": "middle", "fontSize": 8, "fontWeight": "bold", "offset": 2},
    "hconcat": [
     {"width": 110, "height": 77, "data": {"name": "ts"}, "transform": [{"filter": "datum.p=='d5'"}], "mark": {"type": "line", "strokeWidth": 0.9},
      "encoding": {"x": {"field": "t", "type": "quantitative", "title": "Time", "scale": {"domain": [-0.8, 16.8], "nice": false, "zero": false}, "axis": {"values": [0, 5, 10, 15]}},
       "y": {"field": "v", "type": "quantitative", "title": "Mean antigenicity", "scale": {"domain": [-0.575, 12.075], "nice": false, "zero": false}, "axis": {"values": [0, 3, 6, 9]}},
       "color": {"field": "r", "type": "nominal", "legend": null, "scale": {"domain": ["B1","B2","B3","B4","B5","B6","R1","R2","R3","R4","R5","R6","G1","G2","G3","G4"], "range": ["#0d5a79","#1b6e8e","#2a7fa0","#3b90b1","#5aa8c6","#1f7899","#8b0000","#9e1212","#a82020","#b53a3a","#c04848","#931010","#4d4d4d","#5a5a5a","#404040","#666666"]}}}}
    ]},
   {"width": 100, "height": 77, "data": {"name": "hist"}, "transform": [{"filter": "datum.p=='e5'"}], "mark": {"type": "rect", "color": "#5f5f5f"},
    "encoding": {"x": {"field": "lo", "type": "quantitative", "title": "CCF of most common antigen", "scale": {"type": "log", "domain": [0.000708, 1.4125], "nice": false}, "axis": {"values": [0.001, 0.01, 0.1, 1], "format": ".3f"}}, "x2": {"field": "hi"},
     "y": {"field": "n", "type": "quantitative", "title": "Count", "scale": {"domain": [-0.3, 6.3], "nice": false, "zero": false}, "axis": {"values": [0, 2, 4, 6]}}, "y2": {"datum": 0}}},
   {"width": 103, "height": 77,
    "layer": [
     {"data": {"name": "cum"}, "transform": [{"filter": "datum.p=='f5' && datum.s=='r'"}], "mark": {"type": "line", "color": "#e3211c", "strokeWidth": 1.4},
      "encoding": {"x": {"field": "x", "type": "quantitative", "title": "Inverse allelic frequency (1/f)", "scale": {"domain": [-46.5, 1049.8], "nice": false, "zero": false}, "axis": {"values": [3.333, 500, 1000], "labelExpr": "datum.value < 10 ? '1/0.3' : (datum.value < 600 ? '1/0.002' : '1/0.001')"}},
       "y": {"field": "y", "type": "quantitative", "title": "Cumulative distribution", "scale": {"domain": [-0.05, 1.05], "nice": false, "zero": false}, "axis": {"values": [0, 0.5, 1], "format": ".1f"}}}},
     {"data": {"name": "cum"}, "transform": [{"filter": "datum.p=='f5' && datum.s=='g'"}], "mark": {"type": "line", "color": "#3f3f3f", "strokeWidth": 1.7},
      "encoding": {"x": {"field": "x", "type": "quantitative"}, "y": {"field": "y", "type": "quantitative"}}}
    ]}
  ]}
 ]
}
]
}
